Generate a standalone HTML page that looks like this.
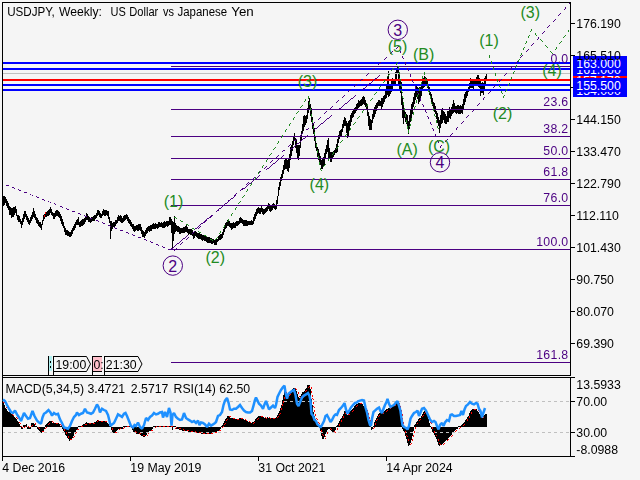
<!DOCTYPE html>
<html><head><meta charset="utf-8"><title>USDJPY Weekly</title>
<style>
html,body{margin:0;padding:0;background:#f5f5f5;}
body{width:640px;height:480px;overflow:hidden;position:relative;font-family:"Liberation Sans",sans-serif;}
svg{position:absolute;left:0;top:0;}
text{font-family:"Liberation Sans",sans-serif;}
.t{font-size:12.3px;fill:#000;}
.f{font-size:12.3px;letter-spacing:0.3px;fill:#4b0082;}
.w{font-size:12.3px;fill:#fff;}
.g{font-size:16px;fill:#228b22;}
.p{font-size:16px;fill:#4b0082;}
</style></head><body>
<svg width="640" height="480" viewBox="0 0 640 480">
<rect x="0" y="0" width="640" height="480" fill="#f5f5f5"/>
<g shape-rendering="crispEdges">
<rect x="3" y="196" width="1" height="10" fill="#000"/>
<rect x="4" y="196" width="1" height="9" fill="#000"/>
<rect x="5" y="197" width="1" height="6" fill="#000"/>
<rect x="6" y="199" width="1" height="7" fill="#000"/>
<rect x="7" y="201" width="1" height="7" fill="#000"/>
<rect x="8" y="203" width="1" height="7" fill="#000"/>
<rect x="9" y="206" width="1" height="9" fill="#000"/>
<rect x="10" y="207" width="1" height="8" fill="#000"/>
<rect x="11" y="208" width="1" height="10" fill="#000"/>
<rect x="12" y="208" width="1" height="9" fill="#000"/>
<rect x="13" y="207" width="1" height="10" fill="#000"/>
<rect x="14" y="207" width="1" height="8" fill="#000"/>
<rect x="15" y="206" width="1" height="7" fill="#000"/>
<rect x="16" y="209" width="1" height="7" fill="#000"/>
<rect x="17" y="215" width="1" height="5" fill="#000"/>
<rect x="18" y="215" width="1" height="7" fill="#000"/>
<rect x="19" y="216" width="1" height="6" fill="#000"/>
<rect x="20" y="219" width="1" height="5" fill="#000"/>
<rect x="21" y="221" width="1" height="7" fill="#000"/>
<rect x="22" y="218" width="1" height="7" fill="#000"/>
<rect x="23" y="214" width="1" height="8" fill="#000"/>
<rect x="24" y="211" width="1" height="8" fill="#000"/>
<rect x="25" y="211" width="1" height="6" fill="#000"/>
<rect x="26" y="214" width="1" height="6" fill="#000"/>
<rect x="27" y="216" width="1" height="6" fill="#000"/>
<rect x="28" y="218" width="1" height="6" fill="#000"/>
<rect x="29" y="220" width="1" height="5" fill="#000"/>
<rect x="30" y="217" width="1" height="6" fill="#000"/>
<rect x="31" y="215" width="1" height="6" fill="#000"/>
<rect x="32" y="212" width="1" height="7" fill="#000"/>
<rect x="33" y="208" width="1" height="9" fill="#000"/>
<rect x="34" y="211" width="1" height="7" fill="#000"/>
<rect x="35" y="214" width="1" height="6" fill="#000"/>
<rect x="36" y="217" width="1" height="6" fill="#000"/>
<rect x="37" y="218" width="1" height="6" fill="#000"/>
<rect x="38" y="220" width="1" height="6" fill="#000"/>
<rect x="39" y="222" width="1" height="5" fill="#000"/>
<rect x="40" y="222" width="1" height="6" fill="#000"/>
<rect x="41" y="224" width="1" height="6" fill="#000"/>
<rect x="42" y="220" width="1" height="5" fill="#000"/>
<rect x="43" y="215" width="1" height="6" fill="#000"/>
<rect x="44" y="214" width="1" height="5" fill="#000"/>
<rect x="45" y="212" width="1" height="5" fill="#000"/>
<rect x="46" y="212" width="1" height="5" fill="#000"/>
<rect x="47" y="211" width="1" height="5" fill="#000"/>
<rect x="48" y="210" width="1" height="6" fill="#000"/>
<rect x="49" y="209" width="1" height="6" fill="#000"/>
<rect x="50" y="207" width="1" height="6" fill="#000"/>
<rect x="51" y="209" width="1" height="6" fill="#000"/>
<rect x="52" y="212" width="1" height="4" fill="#000"/>
<rect x="53" y="213" width="1" height="6" fill="#000"/>
<rect x="54" y="213" width="1" height="6" fill="#000"/>
<rect x="55" y="211" width="1" height="6" fill="#000"/>
<rect x="56" y="210" width="1" height="6" fill="#000"/>
<rect x="57" y="210" width="1" height="6" fill="#000"/>
<rect x="58" y="211" width="1" height="6" fill="#000"/>
<rect x="59" y="212" width="1" height="6" fill="#000"/>
<rect x="60" y="214" width="1" height="7" fill="#000"/>
<rect x="61" y="216" width="1" height="8" fill="#000"/>
<rect x="62" y="219" width="1" height="7" fill="#000"/>
<rect x="63" y="222" width="1" height="6" fill="#000"/>
<rect x="64" y="226" width="1" height="6" fill="#000"/>
<rect x="65" y="228" width="1" height="7" fill="#000"/>
<rect x="66" y="230" width="1" height="5" fill="#000"/>
<rect x="67" y="230" width="1" height="6" fill="#000"/>
<rect x="68" y="231" width="1" height="5" fill="#000"/>
<rect x="69" y="232" width="1" height="5" fill="#000"/>
<rect x="70" y="232" width="1" height="5" fill="#000"/>
<rect x="71" y="230" width="1" height="6" fill="#000"/>
<rect x="72" y="228" width="1" height="6" fill="#000"/>
<rect x="73" y="226" width="1" height="5" fill="#000"/>
<rect x="74" y="224" width="1" height="6" fill="#000"/>
<rect x="75" y="222" width="1" height="6" fill="#000"/>
<rect x="76" y="220" width="1" height="5" fill="#000"/>
<rect x="77" y="219" width="1" height="6" fill="#000"/>
<rect x="78" y="217" width="1" height="8" fill="#000"/>
<rect x="79" y="222" width="1" height="5" fill="#000"/>
<rect x="80" y="221" width="1" height="6" fill="#000"/>
<rect x="81" y="220" width="1" height="6" fill="#000"/>
<rect x="82" y="219" width="1" height="7" fill="#000"/>
<rect x="83" y="219" width="1" height="6" fill="#000"/>
<rect x="84" y="218" width="1" height="6" fill="#000"/>
<rect x="85" y="216" width="1" height="6" fill="#000"/>
<rect x="86" y="213" width="1" height="7" fill="#000"/>
<rect x="87" y="214" width="1" height="6" fill="#000"/>
<rect x="88" y="216" width="1" height="6" fill="#000"/>
<rect x="89" y="217" width="1" height="5" fill="#000"/>
<rect x="90" y="218" width="1" height="5" fill="#000"/>
<rect x="91" y="217" width="1" height="5" fill="#000"/>
<rect x="92" y="217" width="1" height="4" fill="#000"/>
<rect x="93" y="216" width="1" height="5" fill="#000"/>
<rect x="94" y="215" width="1" height="6" fill="#000"/>
<rect x="95" y="215" width="1" height="4" fill="#000"/>
<rect x="96" y="213" width="1" height="5" fill="#000"/>
<rect x="97" y="210" width="1" height="6" fill="#000"/>
<rect x="98" y="210" width="1" height="5" fill="#000"/>
<rect x="99" y="211" width="1" height="6" fill="#000"/>
<rect x="100" y="213" width="1" height="5" fill="#000"/>
<rect x="101" y="214" width="1" height="4" fill="#000"/>
<rect x="102" y="211" width="1" height="5" fill="#000"/>
<rect x="103" y="209" width="1" height="6" fill="#000"/>
<rect x="104" y="210" width="1" height="6" fill="#000"/>
<rect x="105" y="210" width="1" height="6" fill="#000"/>
<rect x="106" y="210" width="1" height="5" fill="#000"/>
<rect x="107" y="211" width="1" height="5" fill="#000"/>
<rect x="108" y="211" width="1" height="8" fill="#000"/>
<rect x="109" y="217" width="1" height="6" fill="#000"/>
<rect x="110" y="221" width="1" height="18" fill="#000"/>
<rect x="111" y="221" width="1" height="10" fill="#000"/>
<rect x="112" y="223" width="1" height="6" fill="#000"/>
<rect x="113" y="222" width="1" height="5" fill="#000"/>
<rect x="114" y="222" width="1" height="5" fill="#000"/>
<rect x="115" y="220" width="1" height="6" fill="#000"/>
<rect x="116" y="220" width="1" height="4" fill="#000"/>
<rect x="117" y="217" width="1" height="6" fill="#000"/>
<rect x="118" y="215" width="1" height="6" fill="#000"/>
<rect x="119" y="216" width="1" height="5" fill="#000"/>
<rect x="120" y="215" width="1" height="7" fill="#000"/>
<rect x="121" y="216" width="1" height="7" fill="#000"/>
<rect x="122" y="218" width="1" height="5" fill="#000"/>
<rect x="123" y="216" width="1" height="6" fill="#000"/>
<rect x="124" y="215" width="1" height="6" fill="#000"/>
<rect x="125" y="215" width="1" height="5" fill="#000"/>
<rect x="126" y="214" width="1" height="5" fill="#000"/>
<rect x="127" y="215" width="1" height="6" fill="#000"/>
<rect x="128" y="217" width="1" height="6" fill="#000"/>
<rect x="129" y="219" width="1" height="5" fill="#000"/>
<rect x="130" y="220" width="1" height="6" fill="#000"/>
<rect x="131" y="222" width="1" height="5" fill="#000"/>
<rect x="132" y="224" width="1" height="5" fill="#000"/>
<rect x="133" y="224" width="1" height="7" fill="#000"/>
<rect x="134" y="226" width="1" height="6" fill="#000"/>
<rect x="135" y="226" width="1" height="5" fill="#000"/>
<rect x="136" y="225" width="1" height="5" fill="#000"/>
<rect x="137" y="225" width="1" height="6" fill="#000"/>
<rect x="138" y="224" width="1" height="7" fill="#000"/>
<rect x="139" y="224" width="1" height="6" fill="#000"/>
<rect x="140" y="224" width="1" height="7" fill="#000"/>
<rect x="141" y="227" width="1" height="7" fill="#000"/>
<rect x="142" y="230" width="1" height="7" fill="#000"/>
<rect x="143" y="231" width="1" height="6" fill="#000"/>
<rect x="144" y="232" width="1" height="6" fill="#000"/>
<rect x="145" y="230" width="1" height="6" fill="#000"/>
<rect x="146" y="228" width="1" height="6" fill="#000"/>
<rect x="147" y="227" width="1" height="6" fill="#000"/>
<rect x="148" y="226" width="1" height="5" fill="#000"/>
<rect x="149" y="226" width="1" height="6" fill="#000"/>
<rect x="150" y="225" width="1" height="6" fill="#000"/>
<rect x="151" y="225" width="1" height="6" fill="#000"/>
<rect x="152" y="224" width="1" height="5" fill="#000"/>
<rect x="153" y="223" width="1" height="6" fill="#000"/>
<rect x="154" y="224" width="1" height="5" fill="#000"/>
<rect x="155" y="223" width="1" height="6" fill="#000"/>
<rect x="156" y="224" width="1" height="4" fill="#000"/>
<rect x="157" y="224" width="1" height="5" fill="#000"/>
<rect x="158" y="222" width="1" height="6" fill="#000"/>
<rect x="159" y="222" width="1" height="5" fill="#000"/>
<rect x="160" y="223" width="1" height="4" fill="#000"/>
<rect x="161" y="222" width="1" height="5" fill="#000"/>
<rect x="162" y="223" width="1" height="5" fill="#000"/>
<rect x="163" y="222" width="1" height="6" fill="#000"/>
<rect x="164" y="221" width="1" height="7" fill="#000"/>
<rect x="165" y="222" width="1" height="5" fill="#000"/>
<rect x="166" y="221" width="1" height="5" fill="#000"/>
<rect x="167" y="221" width="1" height="6" fill="#000"/>
<rect x="168" y="221" width="1" height="5" fill="#000"/>
<rect x="169" y="217" width="1" height="8" fill="#000"/>
<rect x="170" y="217" width="1" height="8" fill="#000"/>
<rect x="171" y="219" width="1" height="14" fill="#000"/>
<rect x="172" y="221" width="1" height="29" fill="#000"/>
<rect x="173" y="222" width="1" height="19" fill="#000"/>
<rect x="174" y="216" width="1" height="18" fill="#000"/>
<rect x="175" y="223" width="1" height="9" fill="#000"/>
<rect x="176" y="225" width="1" height="6" fill="#000"/>
<rect x="177" y="226" width="1" height="6" fill="#000"/>
<rect x="178" y="226" width="1" height="6" fill="#000"/>
<rect x="179" y="227" width="1" height="7" fill="#000"/>
<rect x="180" y="228" width="1" height="6" fill="#000"/>
<rect x="181" y="228" width="1" height="5" fill="#000"/>
<rect x="182" y="228" width="1" height="5" fill="#000"/>
<rect x="183" y="227" width="1" height="6" fill="#000"/>
<rect x="184" y="227" width="1" height="6" fill="#000"/>
<rect x="185" y="226" width="1" height="6" fill="#000"/>
<rect x="186" y="225" width="1" height="7" fill="#000"/>
<rect x="187" y="227" width="1" height="6" fill="#000"/>
<rect x="188" y="229" width="1" height="6" fill="#000"/>
<rect x="189" y="229" width="1" height="5" fill="#000"/>
<rect x="190" y="229" width="1" height="6" fill="#000"/>
<rect x="191" y="229" width="1" height="6" fill="#000"/>
<rect x="192" y="230" width="1" height="6" fill="#000"/>
<rect x="193" y="232" width="1" height="7" fill="#000"/>
<rect x="194" y="231" width="1" height="7" fill="#000"/>
<rect x="195" y="231" width="1" height="5" fill="#000"/>
<rect x="196" y="232" width="1" height="5" fill="#000"/>
<rect x="197" y="233" width="1" height="5" fill="#000"/>
<rect x="198" y="233" width="1" height="6" fill="#000"/>
<rect x="199" y="233" width="1" height="6" fill="#000"/>
<rect x="200" y="234" width="1" height="5" fill="#000"/>
<rect x="201" y="234" width="1" height="6" fill="#000"/>
<rect x="202" y="235" width="1" height="6" fill="#000"/>
<rect x="203" y="235" width="1" height="5" fill="#000"/>
<rect x="204" y="236" width="1" height="5" fill="#000"/>
<rect x="205" y="235" width="1" height="6" fill="#000"/>
<rect x="206" y="236" width="1" height="6" fill="#000"/>
<rect x="207" y="237" width="1" height="6" fill="#000"/>
<rect x="208" y="237" width="1" height="6" fill="#000"/>
<rect x="209" y="237" width="1" height="6" fill="#000"/>
<rect x="210" y="238" width="1" height="5" fill="#000"/>
<rect x="211" y="238" width="1" height="6" fill="#000"/>
<rect x="212" y="239" width="1" height="5" fill="#000"/>
<rect x="213" y="239" width="1" height="4" fill="#000"/>
<rect x="214" y="240" width="1" height="5" fill="#000"/>
<rect x="215" y="239" width="1" height="6" fill="#000"/>
<rect x="216" y="239" width="1" height="6" fill="#000"/>
<rect x="217" y="239" width="1" height="3" fill="#000"/>
<rect x="218" y="236" width="1" height="5" fill="#000"/>
<rect x="219" y="235" width="1" height="5" fill="#000"/>
<rect x="220" y="234" width="1" height="6" fill="#000"/>
<rect x="221" y="234" width="1" height="5" fill="#000"/>
<rect x="222" y="232" width="1" height="6" fill="#000"/>
<rect x="223" y="229" width="1" height="6" fill="#000"/>
<rect x="224" y="225" width="1" height="7" fill="#000"/>
<rect x="225" y="223" width="1" height="6" fill="#000"/>
<rect x="226" y="222" width="1" height="6" fill="#000"/>
<rect x="227" y="220" width="1" height="6" fill="#000"/>
<rect x="228" y="219" width="1" height="7" fill="#000"/>
<rect x="229" y="221" width="1" height="6" fill="#000"/>
<rect x="230" y="223" width="1" height="5" fill="#000"/>
<rect x="231" y="223" width="1" height="7" fill="#000"/>
<rect x="232" y="223" width="1" height="6" fill="#000"/>
<rect x="233" y="222" width="1" height="6" fill="#000"/>
<rect x="234" y="223" width="1" height="5" fill="#000"/>
<rect x="235" y="222" width="1" height="6" fill="#000"/>
<rect x="236" y="221" width="1" height="5" fill="#000"/>
<rect x="237" y="221" width="1" height="5" fill="#000"/>
<rect x="238" y="221" width="1" height="4" fill="#000"/>
<rect x="239" y="218" width="1" height="6" fill="#000"/>
<rect x="240" y="217" width="1" height="6" fill="#000"/>
<rect x="241" y="218" width="1" height="5" fill="#000"/>
<rect x="242" y="219" width="1" height="5" fill="#000"/>
<rect x="243" y="220" width="1" height="6" fill="#000"/>
<rect x="244" y="220" width="1" height="6" fill="#000"/>
<rect x="245" y="220" width="1" height="6" fill="#000"/>
<rect x="246" y="220" width="1" height="6" fill="#000"/>
<rect x="247" y="221" width="1" height="5" fill="#000"/>
<rect x="248" y="221" width="1" height="4" fill="#000"/>
<rect x="249" y="221" width="1" height="4" fill="#000"/>
<rect x="250" y="221" width="1" height="4" fill="#000"/>
<rect x="251" y="220" width="1" height="5" fill="#000"/>
<rect x="252" y="221" width="1" height="4" fill="#000"/>
<rect x="253" y="217" width="1" height="7" fill="#000"/>
<rect x="254" y="214" width="1" height="7" fill="#000"/>
<rect x="255" y="212" width="1" height="7" fill="#000"/>
<rect x="256" y="209" width="1" height="7" fill="#000"/>
<rect x="257" y="208" width="1" height="6" fill="#000"/>
<rect x="258" y="207" width="1" height="6" fill="#000"/>
<rect x="259" y="208" width="1" height="6" fill="#000"/>
<rect x="260" y="208" width="1" height="6" fill="#000"/>
<rect x="261" y="206" width="1" height="6" fill="#000"/>
<rect x="262" y="208" width="1" height="6" fill="#000"/>
<rect x="263" y="209" width="1" height="6" fill="#000"/>
<rect x="264" y="209" width="1" height="5" fill="#000"/>
<rect x="265" y="208" width="1" height="5" fill="#000"/>
<rect x="266" y="207" width="1" height="5" fill="#000"/>
<rect x="267" y="206" width="1" height="5" fill="#000"/>
<rect x="268" y="203" width="1" height="6" fill="#000"/>
<rect x="269" y="204" width="1" height="7" fill="#000"/>
<rect x="270" y="206" width="1" height="6" fill="#000"/>
<rect x="271" y="206" width="1" height="5" fill="#000"/>
<rect x="272" y="204" width="1" height="6" fill="#000"/>
<rect x="273" y="203" width="1" height="5" fill="#000"/>
<rect x="274" y="204" width="1" height="5" fill="#000"/>
<rect x="275" y="205" width="1" height="5" fill="#000"/>
<rect x="276" y="200" width="1" height="9" fill="#000"/>
<rect x="277" y="196" width="1" height="8" fill="#000"/>
<rect x="278" y="187" width="1" height="9" fill="#000"/>
<rect x="279" y="182" width="1" height="8" fill="#000"/>
<rect x="280" y="177" width="1" height="9" fill="#000"/>
<rect x="281" y="174" width="1" height="7" fill="#000"/>
<rect x="282" y="170" width="1" height="8" fill="#000"/>
<rect x="283" y="165" width="1" height="9" fill="#000"/>
<rect x="284" y="160" width="1" height="10" fill="#000"/>
<rect x="285" y="159" width="1" height="10" fill="#000"/>
<rect x="286" y="158" width="1" height="11" fill="#000"/>
<rect x="287" y="160" width="1" height="11" fill="#000"/>
<rect x="288" y="158" width="1" height="14" fill="#000"/>
<rect x="289" y="154" width="1" height="14" fill="#000"/>
<rect x="290" y="147" width="1" height="13" fill="#000"/>
<rect x="291" y="145" width="1" height="11" fill="#000"/>
<rect x="292" y="141" width="1" height="10" fill="#000"/>
<rect x="293" y="136" width="1" height="9" fill="#000"/>
<rect x="294" y="133" width="1" height="8" fill="#000"/>
<rect x="295" y="138" width="1" height="10" fill="#000"/>
<rect x="296" y="140" width="1" height="13" fill="#000"/>
<rect x="297" y="145" width="1" height="13" fill="#000"/>
<rect x="298" y="145" width="1" height="15" fill="#000"/>
<rect x="299" y="145" width="1" height="11" fill="#000"/>
<rect x="300" y="136" width="1" height="12" fill="#000"/>
<rect x="301" y="131" width="1" height="10" fill="#000"/>
<rect x="302" y="124" width="1" height="10" fill="#000"/>
<rect x="303" y="116" width="1" height="15" fill="#000"/>
<rect x="304" y="115" width="1" height="12" fill="#000"/>
<rect x="305" y="116" width="1" height="9" fill="#000"/>
<rect x="306" y="115" width="1" height="8" fill="#000"/>
<rect x="307" y="108" width="1" height="11" fill="#000"/>
<rect x="308" y="101" width="1" height="12" fill="#000"/>
<rect x="309" y="98" width="1" height="12" fill="#000"/>
<rect x="310" y="104" width="1" height="12" fill="#000"/>
<rect x="311" y="108" width="1" height="14" fill="#000"/>
<rect x="312" y="117" width="1" height="12" fill="#000"/>
<rect x="313" y="123" width="1" height="11" fill="#000"/>
<rect x="314" y="128" width="1" height="13" fill="#000"/>
<rect x="315" y="136" width="1" height="12" fill="#000"/>
<rect x="316" y="143" width="1" height="8" fill="#000"/>
<rect x="317" y="147" width="1" height="10" fill="#000"/>
<rect x="318" y="149" width="1" height="11" fill="#000"/>
<rect x="319" y="153" width="1" height="10" fill="#000"/>
<rect x="320" y="156" width="1" height="9" fill="#000"/>
<rect x="321" y="160" width="1" height="9" fill="#000"/>
<rect x="322" y="158" width="1" height="11" fill="#000"/>
<rect x="323" y="157" width="1" height="10" fill="#000"/>
<rect x="324" y="153" width="1" height="12" fill="#000"/>
<rect x="325" y="149" width="1" height="9" fill="#000"/>
<rect x="326" y="145" width="1" height="9" fill="#000"/>
<rect x="327" y="140" width="1" height="12" fill="#000"/>
<rect x="328" y="138" width="1" height="20" fill="#000"/>
<rect x="329" y="148" width="1" height="10" fill="#000"/>
<rect x="330" y="152" width="1" height="10" fill="#000"/>
<rect x="331" y="152" width="1" height="10" fill="#000"/>
<rect x="332" y="152" width="1" height="7" fill="#000"/>
<rect x="333" y="151" width="1" height="6" fill="#000"/>
<rect x="334" y="150" width="1" height="5" fill="#000"/>
<rect x="335" y="148" width="1" height="5" fill="#000"/>
<rect x="336" y="144" width="1" height="9" fill="#000"/>
<rect x="337" y="139" width="1" height="13" fill="#000"/>
<rect x="338" y="135" width="1" height="8" fill="#000"/>
<rect x="339" y="131" width="1" height="8" fill="#000"/>
<rect x="340" y="130" width="1" height="7" fill="#000"/>
<rect x="341" y="129" width="1" height="7" fill="#000"/>
<rect x="342" y="124" width="1" height="8" fill="#000"/>
<rect x="343" y="120" width="1" height="8" fill="#000"/>
<rect x="344" y="117" width="1" height="9" fill="#000"/>
<rect x="345" y="118" width="1" height="8" fill="#000"/>
<rect x="346" y="121" width="1" height="12" fill="#000"/>
<rect x="347" y="123" width="1" height="15" fill="#000"/>
<rect x="348" y="121" width="1" height="15" fill="#000"/>
<rect x="349" y="120" width="1" height="11" fill="#000"/>
<rect x="350" y="115" width="1" height="11" fill="#000"/>
<rect x="351" y="113" width="1" height="9" fill="#000"/>
<rect x="352" y="111" width="1" height="7" fill="#000"/>
<rect x="353" y="109" width="1" height="8" fill="#000"/>
<rect x="354" y="108" width="1" height="6" fill="#000"/>
<rect x="355" y="107" width="1" height="6" fill="#000"/>
<rect x="356" y="104" width="1" height="7" fill="#000"/>
<rect x="357" y="103" width="1" height="7" fill="#000"/>
<rect x="358" y="100" width="1" height="8" fill="#000"/>
<rect x="359" y="101" width="1" height="6" fill="#000"/>
<rect x="360" y="100" width="1" height="6" fill="#000"/>
<rect x="361" y="99" width="1" height="7" fill="#000"/>
<rect x="362" y="97" width="1" height="8" fill="#000"/>
<rect x="363" y="96" width="1" height="8" fill="#000"/>
<rect x="364" y="97" width="1" height="8" fill="#000"/>
<rect x="365" y="100" width="1" height="7" fill="#000"/>
<rect x="366" y="103" width="1" height="6" fill="#000"/>
<rect x="367" y="106" width="1" height="10" fill="#000"/>
<rect x="368" y="112" width="1" height="14" fill="#000"/>
<rect x="369" y="116" width="1" height="14" fill="#000"/>
<rect x="370" y="119" width="1" height="11" fill="#000"/>
<rect x="371" y="120" width="1" height="10" fill="#000"/>
<rect x="372" y="114" width="1" height="9" fill="#000"/>
<rect x="373" y="110" width="1" height="9" fill="#000"/>
<rect x="374" y="107" width="1" height="10" fill="#000"/>
<rect x="375" y="105" width="1" height="9" fill="#000"/>
<rect x="376" y="103" width="1" height="8" fill="#000"/>
<rect x="377" y="102" width="1" height="6" fill="#000"/>
<rect x="378" y="100" width="1" height="6" fill="#000"/>
<rect x="379" y="100" width="1" height="6" fill="#000"/>
<rect x="380" y="101" width="1" height="5" fill="#000"/>
<rect x="381" y="98" width="1" height="12" fill="#000"/>
<rect x="382" y="98" width="1" height="9" fill="#000"/>
<rect x="383" y="96" width="1" height="8" fill="#000"/>
<rect x="384" y="95" width="1" height="7" fill="#000"/>
<rect x="385" y="89" width="1" height="10" fill="#000"/>
<rect x="386" y="86" width="1" height="12" fill="#000"/>
<rect x="387" y="76" width="1" height="19" fill="#000"/>
<rect x="388" y="71" width="1" height="26" fill="#000"/>
<rect x="389" y="85" width="1" height="11" fill="#000"/>
<rect x="390" y="86" width="1" height="8" fill="#000"/>
<rect x="391" y="79" width="1" height="13" fill="#000"/>
<rect x="392" y="78" width="1" height="13" fill="#000"/>
<rect x="393" y="80" width="1" height="6" fill="#000"/>
<rect x="394" y="79" width="1" height="6" fill="#000"/>
<rect x="395" y="72" width="1" height="13" fill="#000"/>
<rect x="396" y="70" width="1" height="10" fill="#000"/>
<rect x="397" y="66" width="1" height="8" fill="#000"/>
<rect x="398" y="66" width="1" height="19" fill="#000"/>
<rect x="399" y="72" width="1" height="18" fill="#000"/>
<rect x="400" y="80" width="1" height="13" fill="#000"/>
<rect x="401" y="82" width="1" height="23" fill="#000"/>
<rect x="402" y="98" width="1" height="20" fill="#000"/>
<rect x="403" y="105" width="1" height="19" fill="#000"/>
<rect x="404" y="109" width="1" height="9" fill="#000"/>
<rect x="405" y="112" width="1" height="10" fill="#000"/>
<rect x="406" y="114" width="1" height="10" fill="#000"/>
<rect x="407" y="115" width="1" height="14" fill="#000"/>
<rect x="408" y="121" width="1" height="13" fill="#000"/>
<rect x="409" y="115" width="1" height="14" fill="#000"/>
<rect x="410" y="110" width="1" height="12" fill="#000"/>
<rect x="411" y="104" width="1" height="15" fill="#000"/>
<rect x="412" y="102" width="1" height="12" fill="#000"/>
<rect x="413" y="97" width="1" height="10" fill="#000"/>
<rect x="414" y="93" width="1" height="11" fill="#000"/>
<rect x="415" y="91" width="1" height="9" fill="#000"/>
<rect x="416" y="85" width="1" height="12" fill="#000"/>
<rect x="417" y="87" width="1" height="12" fill="#000"/>
<rect x="418" y="88" width="1" height="16" fill="#000"/>
<rect x="419" y="87" width="1" height="15" fill="#000"/>
<rect x="420" y="87" width="1" height="12" fill="#000"/>
<rect x="421" y="82" width="1" height="14" fill="#000"/>
<rect x="422" y="80" width="1" height="10" fill="#000"/>
<rect x="423" y="78" width="1" height="10" fill="#000"/>
<rect x="424" y="76" width="1" height="11" fill="#000"/>
<rect x="425" y="77" width="1" height="9" fill="#000"/>
<rect x="426" y="78" width="1" height="8" fill="#000"/>
<rect x="427" y="81" width="1" height="7" fill="#000"/>
<rect x="428" y="85" width="1" height="6" fill="#000"/>
<rect x="429" y="87" width="1" height="8" fill="#000"/>
<rect x="430" y="92" width="1" height="7" fill="#000"/>
<rect x="431" y="94" width="1" height="8" fill="#000"/>
<rect x="432" y="98" width="1" height="8" fill="#000"/>
<rect x="433" y="102" width="1" height="8" fill="#000"/>
<rect x="434" y="103" width="1" height="9" fill="#000"/>
<rect x="435" y="106" width="1" height="8" fill="#000"/>
<rect x="436" y="111" width="1" height="8" fill="#000"/>
<rect x="437" y="113" width="1" height="10" fill="#000"/>
<rect x="438" y="117" width="1" height="9" fill="#000"/>
<rect x="439" y="120" width="1" height="13" fill="#000"/>
<rect x="440" y="115" width="1" height="13" fill="#000"/>
<rect x="441" y="110" width="1" height="14" fill="#000"/>
<rect x="442" y="108" width="1" height="15" fill="#000"/>
<rect x="443" y="111" width="1" height="9" fill="#000"/>
<rect x="444" y="112" width="1" height="11" fill="#000"/>
<rect x="445" y="114" width="1" height="10" fill="#000"/>
<rect x="446" y="116" width="1" height="8" fill="#000"/>
<rect x="447" y="111" width="1" height="11" fill="#000"/>
<rect x="448" y="111" width="1" height="11" fill="#000"/>
<rect x="449" y="107" width="1" height="11" fill="#000"/>
<rect x="450" y="109" width="1" height="10" fill="#000"/>
<rect x="451" y="107" width="1" height="9" fill="#000"/>
<rect x="452" y="104" width="1" height="10" fill="#000"/>
<rect x="453" y="100" width="1" height="13" fill="#000"/>
<rect x="454" y="103" width="1" height="9" fill="#000"/>
<rect x="455" y="106" width="1" height="7" fill="#000"/>
<rect x="456" y="106" width="1" height="8" fill="#000"/>
<rect x="457" y="105" width="1" height="8" fill="#000"/>
<rect x="458" y="105" width="1" height="9" fill="#000"/>
<rect x="459" y="106" width="1" height="8" fill="#000"/>
<rect x="460" y="105" width="1" height="9" fill="#000"/>
<rect x="461" y="106" width="1" height="7" fill="#000"/>
<rect x="462" y="104" width="1" height="10" fill="#000"/>
<rect x="463" y="99" width="1" height="11" fill="#000"/>
<rect x="464" y="94" width="1" height="11" fill="#000"/>
<rect x="465" y="92" width="1" height="10" fill="#000"/>
<rect x="466" y="91" width="1" height="7" fill="#000"/>
<rect x="467" y="89" width="1" height="7" fill="#000"/>
<rect x="468" y="87" width="1" height="5" fill="#000"/>
<rect x="469" y="83" width="1" height="8" fill="#000"/>
<rect x="470" y="78" width="1" height="10" fill="#000"/>
<rect x="471" y="80" width="1" height="8" fill="#000"/>
<rect x="472" y="80" width="1" height="8" fill="#000"/>
<rect x="473" y="81" width="1" height="8" fill="#000"/>
<rect x="474" y="79" width="1" height="7" fill="#000"/>
<rect x="475" y="79" width="1" height="6" fill="#000"/>
<rect x="476" y="77" width="1" height="7" fill="#000"/>
<rect x="477" y="75" width="1" height="9" fill="#000"/>
<rect x="478" y="75" width="1" height="12" fill="#000"/>
<rect x="479" y="78" width="1" height="10" fill="#000"/>
<rect x="480" y="79" width="1" height="17" fill="#000"/>
<rect x="481" y="83" width="1" height="10" fill="#000"/>
<rect x="482" y="82" width="1" height="11" fill="#000"/>
<rect x="483" y="83" width="1" height="12" fill="#000"/>
<rect x="484" y="78" width="1" height="13" fill="#000"/>
<rect x="485" y="76" width="1" height="8" fill="#000"/>
<rect x="486" y="73" width="1" height="8" fill="#000"/>
<rect x="45" y="212" width="1" height="2" fill="#ff0000"/><rect x="44" y="215" width="1" height="2" fill="#ff0000"/>
</g>
<g shape-rendering="crispEdges">
<rect x="171" y="66" width="399" height="1" fill="#4b0082"/>
<rect x="171" y="109" width="399" height="1" fill="#4b0082"/>
<rect x="171" y="136" width="399" height="1" fill="#4b0082"/>
<rect x="171" y="158" width="399" height="1" fill="#4b0082"/>
<rect x="171" y="179" width="399" height="1" fill="#4b0082"/>
<rect x="171" y="205" width="399" height="1" fill="#4b0082"/>
<rect x="171" y="249" width="399" height="1" fill="#4b0082"/>
<rect x="171" y="362" width="399" height="1" fill="#4b0082"/>
<rect x="3" y="73" width="567" height="1" fill="#c0c0c0"/>
<rect x="3" y="62" width="567" height="2" fill="#0000ff"/>
<rect x="3" y="68" width="567" height="2" fill="#0000ff"/>
<rect x="3" y="79" width="567" height="2" fill="#ff0000"/>
<rect x="3" y="84" width="567" height="2" fill="#0000ff"/>
<rect x="3" y="89" width="567" height="2" fill="#0000ff"/>
</g>
<path d="M569 3h1v1h-1zM565 7h1v1h-1zM565 8h1v1h-1zM564 9h1v1h-1zM560 13h1v1h-1zM559 14h1v1h-1zM558 15h1v1h-1zM555 19h1v1h-1zM554 20h1v1h-1zM553 21h1v1h-1zM549 25h1v1h-1zM548 26h1v1h-1zM547 27h1v1h-1zM544 31h1v1h-1zM543 32h1v1h-1zM542 33h1v1h-1zM538 37h1v1h-1zM538 38h1v1h-1zM537 39h1v1h-1zM533 43h1v1h-1zM532 44h1v1h-1zM531 45h1v1h-1zM398 46h1v1h-1zM397 47h1v1h-1zM396 48h1v1h-1zM528 49h1v1h-1zM399 50h1v1h-1zM527 50h1v1h-1zM392 51h1v1h-1zM400 51h1v1h-1zM526 51h1v1h-1zM391 52h1v1h-1zM400 52h1v1h-1zM390 53h1v1h-1zM522 55h1v1h-1zM402 56h1v1h-1zM521 56h1v1h-1zM386 57h1v1h-1zM402 57h1v1h-1zM520 57h1v1h-1zM385 58h1v1h-1zM403 58h1v1h-1zM384 59h1v1h-1zM517 61h1v1h-1zM380 62h1v1h-1zM405 62h1v1h-1zM516 62h1v1h-1zM379 63h1v1h-1zM405 63h1v1h-1zM515 63h1v1h-1zM378 64h1v1h-1zM405 64h1v1h-1zM511 67h1v1h-1zM374 68h1v1h-1zM407 68h1v1h-1zM511 68h1v1h-1zM372 69h2v1h-2zM407 69h1v1h-1zM510 69h1v1h-1zM408 70h1v1h-1zM368 73h1v1h-1zM506 73h1v1h-1zM367 74h1v1h-1zM410 74h1v1h-1zM505 74h1v1h-1zM366 75h1v1h-1zM410 75h1v1h-1zM504 75h1v1h-1zM410 76h1v1h-1zM361 79h2v1h-2zM501 79h1v1h-1zM360 80h1v1h-1zM412 80h1v1h-1zM500 80h1v1h-1zM412 81h1v1h-1zM499 81h1v1h-1zM413 82h1v1h-1zM356 84h1v1h-1zM355 85h1v1h-1zM495 85h1v1h-1zM354 86h1v1h-1zM415 86h1v1h-1zM494 86h1v1h-1zM415 87h1v1h-1zM493 87h1v1h-1zM415 88h1v1h-1zM350 89h1v1h-1zM349 90h1v1h-1zM348 91h1v1h-1zM490 91h1v1h-1zM417 92h1v1h-1zM489 92h1v1h-1zM418 93h1v1h-1zM488 93h1v1h-1zM418 94h1v1h-1zM344 95h1v1h-1zM343 96h1v1h-1zM342 97h1v1h-1zM484 97h1v1h-1zM420 98h1v1h-1zM483 98h1v1h-1zM420 99h1v1h-1zM483 99h1v1h-1zM338 100h1v1h-1zM420 100h1v1h-1zM337 101h1v1h-1zM336 102h1v1h-1zM479 103h1v1h-1zM422 104h1v1h-1zM478 104h1v1h-1zM423 105h1v1h-1zM477 105h1v1h-1zM332 106h1v1h-1zM423 106h1v1h-1zM331 107h1v1h-1zM330 108h1v1h-1zM474 109h1v1h-1zM425 110h1v1h-1zM473 110h1v1h-1zM326 111h1v1h-1zM425 111h1v1h-1zM472 111h1v1h-1zM325 112h1v1h-1zM426 112h1v1h-1zM324 113h1v1h-1zM468 115h1v1h-1zM427 116h1v1h-1zM467 116h1v1h-1zM320 117h1v1h-1zM428 117h1v1h-1zM466 117h1v1h-1zM319 118h1v1h-1zM428 118h1v1h-1zM318 119h1v1h-1zM463 121h1v1h-1zM314 122h1v1h-1zM430 122h1v1h-1zM462 122h1v1h-1zM313 123h1v1h-1zM430 123h1v1h-1zM461 123h1v1h-1zM312 124h1v1h-1zM431 124h1v1h-1zM457 127h1v1h-1zM308 128h1v1h-1zM432 128h1v1h-1zM456 128h1v1h-1zM306 129h2v1h-2zM433 129h1v1h-1zM456 129h1v1h-1zM433 130h1v1h-1zM302 133h1v1h-1zM452 133h1v1h-1zM301 134h1v1h-1zM435 134h1v1h-1zM451 134h1v1h-1zM300 135h1v1h-1zM435 135h1v1h-1zM450 135h1v1h-1zM436 136h1v1h-1zM296 139h1v1h-1zM447 139h1v1h-1zM294 140h2v1h-2zM437 140h1v1h-1zM446 140h1v1h-1zM438 141h1v1h-1zM445 141h1v1h-1zM438 142h1v1h-1zM290 144h1v1h-1zM289 145h1v1h-1zM441 145h1v1h-1zM288 146h1v1h-1zM440 146h1v1h-1zM440 147h1v1h-1zM283 150h2v1h-2zM282 151h1v1h-1zM278 155h1v1h-1zM277 156h1v1h-1zM276 157h1v1h-1zM272 160h1v1h-1zM271 161h1v1h-1zM270 162h1v1h-1zM266 166h1v1h-1zM265 167h1v1h-1zM264 168h1v1h-1zM260 171h1v1h-1zM259 172h1v1h-1zM258 173h1v1h-1zM254 177h1v1h-1zM253 178h1v1h-1zM252 179h1v1h-1zM248 182h1v1h-1zM247 183h1v1h-1zM246 184h1v1h-1zM6 185h3v1h-3zM12 187h2v1h-2zM14 188h1v1h-1zM242 188h1v1h-1zM18 189h1v1h-1zM241 189h1v1h-1zM19 190h2v1h-2zM240 190h1v1h-1zM24 192h3v1h-3zM236 193h1v1h-1zM30 194h1v1h-1zM235 194h1v1h-1zM32 195h1v1h-1zM234 195h1v1h-1zM36 196h1v1h-1zM37 197h2v1h-2zM42 199h2v1h-2zM230 199h1v1h-1zM44 200h1v1h-1zM228 200h2v1h-2zM48 201h1v1h-1zM50 202h1v1h-1zM54 203h1v1h-1zM55 204h1v1h-1zM224 204h1v1h-1zM223 205h1v1h-1zM60 206h2v1h-2zM222 206h1v1h-1zM62 207h1v1h-1zM66 208h1v1h-1zM67 209h2v1h-2zM217 210h2v1h-2zM72 211h3v1h-3zM216 211h1v1h-1zM78 213h2v1h-2zM80 214h1v1h-1zM84 215h1v1h-1zM212 215h1v1h-1zM85 216h2v1h-2zM211 216h1v1h-1zM210 217h1v1h-1zM90 218h2v1h-2zM96 220h2v1h-2zM206 220h1v1h-1zM98 221h1v1h-1zM205 221h1v1h-1zM102 222h1v1h-1zM204 222h1v1h-1zM103 223h2v1h-2zM108 225h2v1h-2zM110 226h1v1h-1zM200 226h1v1h-1zM114 227h1v1h-1zM199 227h1v1h-1zM115 228h2v1h-2zM198 228h1v1h-1zM120 230h3v1h-3zM194 231h1v1h-1zM126 232h2v1h-2zM193 232h1v1h-1zM128 233h1v1h-1zM192 233h1v1h-1zM132 234h1v1h-1zM133 235h2v1h-2zM138 237h3v1h-3zM188 237h1v1h-1zM187 238h1v1h-1zM144 239h2v1h-2zM186 239h1v1h-1zM146 240h1v1h-1zM150 241h1v1h-1zM151 242h2v1h-2zM182 242h1v1h-1zM181 243h1v1h-1zM156 244h2v1h-2zM180 244h1v1h-1zM158 245h1v1h-1zM162 246h1v1h-1zM163 247h2v1h-2zM176 248h1v1h-1zM168 249h3v1h-3zM175 249h1v1h-1zM174 250h1v1h-1z" fill="#4b0082" shape-rendering="crispEdges"/>
<path d="M379 75h1v1h-1zM378 76h1v1h-1zM377 77h1v1h-1zM375 78h2v1h-2zM374 79h1v1h-1zM373 80h1v1h-1zM372 81h1v1h-1zM371 82h1v1h-1zM369 83h2v1h-2zM368 84h1v1h-1zM367 85h1v1h-1zM366 86h1v1h-1zM365 87h1v1h-1zM363 88h2v1h-2zM362 89h1v1h-1zM355 95h1v1h-1zM354 96h1v1h-1zM353 97h1v1h-1zM351 98h2v1h-2zM350 99h1v1h-1zM349 100h1v1h-1zM348 101h1v1h-1zM347 102h1v1h-1zM345 103h2v1h-2zM344 104h1v1h-1zM343 105h1v1h-1zM342 106h1v1h-1zM341 107h1v1h-1zM339 108h2v1h-2zM338 109h1v1h-1zM331 115h1v1h-1zM330 116h1v1h-1zM329 117h1v1h-1zM327 118h2v1h-2zM326 119h1v1h-1zM325 120h1v1h-1zM324 121h1v1h-1zM323 122h1v1h-1zM321 123h2v1h-2zM320 124h1v1h-1zM319 125h1v1h-1zM318 126h1v1h-1zM317 127h1v1h-1zM315 128h2v1h-2zM314 129h1v1h-1zM307 135h1v1h-1zM306 136h1v1h-1zM305 137h1v1h-1zM303 138h2v1h-2zM302 139h1v1h-1zM301 140h1v1h-1zM300 141h1v1h-1zM299 142h1v1h-1zM297 143h2v1h-2zM296 144h1v1h-1zM295 145h1v1h-1zM294 146h1v1h-1zM293 147h1v1h-1zM291 148h2v1h-2zM290 149h1v1h-1zM283 155h1v1h-1zM282 156h1v1h-1zM281 157h1v1h-1zM279 158h2v1h-2zM278 159h1v1h-1zM277 160h1v1h-1zM276 161h1v1h-1zM275 162h1v1h-1zM273 163h2v1h-2zM272 164h1v1h-1zM271 165h1v1h-1zM270 166h1v1h-1zM269 167h1v1h-1zM267 168h2v1h-2zM266 169h1v1h-1zM259 175h1v1h-1zM258 176h1v1h-1zM257 177h1v1h-1zM255 178h2v1h-2zM254 179h1v1h-1zM253 180h1v1h-1zM252 181h1v1h-1zM251 182h1v1h-1zM249 183h2v1h-2zM248 184h1v1h-1zM247 185h1v1h-1zM246 186h1v1h-1zM245 187h1v1h-1zM243 188h2v1h-2zM242 189h1v1h-1zM235 195h1v1h-1zM234 196h1v1h-1zM233 197h1v1h-1zM231 198h2v1h-2zM230 199h1v1h-1zM229 200h1v1h-1zM228 201h1v1h-1zM227 202h1v1h-1zM225 203h2v1h-2zM224 204h1v1h-1zM223 205h1v1h-1zM222 206h1v1h-1zM221 207h1v1h-1zM219 208h2v1h-2zM218 209h1v1h-1zM211 215h1v1h-1zM210 216h1v1h-1zM209 217h1v1h-1zM207 218h2v1h-2zM206 219h1v1h-1zM205 220h1v1h-1zM204 221h1v1h-1zM203 222h1v1h-1zM201 223h2v1h-2zM200 224h1v1h-1zM199 225h1v1h-1zM198 226h1v1h-1zM197 227h1v1h-1zM195 228h2v1h-2zM194 229h1v1h-1zM187 235h1v1h-1zM186 236h1v1h-1zM185 237h1v1h-1zM183 238h2v1h-2zM182 239h1v1h-1zM181 240h1v1h-1zM180 241h1v1h-1zM179 242h1v1h-1zM177 243h2v1h-2zM176 244h1v1h-1zM175 245h1v1h-1zM174 246h1v1h-1zM173 247h1v1h-1zM171 248h2v1h-2zM170 249h1v1h-1z" fill="#4b0082" shape-rendering="crispEdges"/>
<path d="M397 62h1v1h-1zM396 63h1v1h-1zM396 64h1v1h-1zM398 66h1v1h-1zM398 67h1v1h-1zM393 68h1v1h-1zM398 68h1v1h-1zM392 69h1v1h-1zM391 70h1v1h-1zM399 72h1v1h-1zM424 72h1v1h-1zM399 73h1v1h-1zM424 73h1v1h-1zM389 74h1v1h-1zM399 74h1v1h-1zM424 74h1v1h-1zM388 75h1v1h-1zM387 76h1v1h-1zM422 76h1v1h-1zM422 77h1v1h-1zM399 78h1v1h-1zM422 78h1v1h-1zM425 78h1v1h-1zM400 79h1v1h-1zM425 79h1v1h-1zM384 80h1v1h-1zM400 80h1v1h-1zM426 80h1v1h-1zM384 81h1v1h-1zM383 82h1v1h-1zM421 82h1v1h-1zM421 83h1v1h-1zM400 84h1v1h-1zM420 84h1v1h-1zM427 84h1v1h-1zM401 85h1v1h-1zM427 85h1v1h-1zM380 86h1v1h-1zM401 86h1v1h-1zM427 86h1v1h-1zM379 87h1v1h-1zM379 88h1v1h-1zM419 88h1v1h-1zM419 89h1v1h-1zM401 90h1v1h-1zM419 90h1v1h-1zM428 90h1v1h-1zM401 91h1v1h-1zM428 91h1v1h-1zM376 92h1v1h-1zM402 92h1v1h-1zM429 92h1v1h-1zM375 93h1v1h-1zM374 94h1v1h-1zM418 94h1v1h-1zM417 95h1v1h-1zM308 96h1v1h-1zM402 96h1v1h-1zM417 96h1v1h-1zM430 96h1v1h-1zM308 97h1v1h-1zM402 97h1v1h-1zM430 97h1v1h-1zM308 98h1v1h-1zM372 98h1v1h-1zM403 98h1v1h-1zM430 98h1v1h-1zM305 99h1v1h-1zM371 99h1v1h-1zM305 100h1v1h-1zM370 100h1v1h-1zM416 100h1v1h-1zM304 101h1v1h-1zM416 101h1v1h-1zM309 102h1v1h-1zM403 102h1v1h-1zM416 102h1v1h-1zM431 102h1v1h-1zM309 103h1v1h-1zM403 103h1v1h-1zM431 103h1v1h-1zM309 104h1v1h-1zM367 104h1v1h-1zM403 104h1v1h-1zM432 104h1v1h-1zM302 105h1v1h-1zM367 105h1v1h-1zM301 106h1v1h-1zM366 106h1v1h-1zM415 106h1v1h-1zM300 107h1v1h-1zM414 107h1v1h-1zM310 108h1v1h-1zM404 108h1v1h-1zM414 108h1v1h-1zM433 108h1v1h-1zM310 109h1v1h-1zM404 109h1v1h-1zM433 109h1v1h-1zM310 110h1v1h-1zM363 110h1v1h-1zM404 110h1v1h-1zM433 110h1v1h-1zM298 111h1v1h-1zM362 111h1v1h-1zM297 112h1v1h-1zM362 112h1v1h-1zM413 112h1v1h-1zM296 113h1v1h-1zM413 113h1v1h-1zM311 114h1v1h-1zM405 114h1v1h-1zM413 114h1v1h-1zM434 114h1v1h-1zM311 115h1v1h-1zM405 115h1v1h-1zM434 115h1v1h-1zM311 116h1v1h-1zM359 116h1v1h-1zM405 116h1v1h-1zM435 116h1v1h-1zM294 117h1v1h-1zM358 117h1v1h-1zM293 118h1v1h-1zM357 118h1v1h-1zM411 118h1v1h-1zM293 119h1v1h-1zM411 119h1v1h-1zM312 120h1v1h-1zM406 120h1v1h-1zM411 120h1v1h-1zM436 120h1v1h-1zM312 121h1v1h-1zM406 121h1v1h-1zM436 121h1v1h-1zM312 122h1v1h-1zM355 122h1v1h-1zM406 122h1v1h-1zM436 122h1v1h-1zM290 123h1v1h-1zM354 123h1v1h-1zM289 124h1v1h-1zM353 124h1v1h-1zM410 124h1v1h-1zM289 125h1v1h-1zM410 125h1v1h-1zM313 126h1v1h-1zM407 126h1v1h-1zM409 126h1v1h-1zM437 126h1v1h-1zM313 127h1v1h-1zM407 127h1v1h-1zM437 127h1v1h-1zM313 128h1v1h-1zM350 128h1v1h-1zM407 128h1v1h-1zM438 128h1v1h-1zM286 129h1v1h-1zM350 129h1v1h-1zM285 130h1v1h-1zM349 130h1v1h-1zM408 130h1v1h-1zM285 131h1v1h-1zM408 131h1v1h-1zM314 132h1v1h-1zM408 132h1v1h-1zM314 133h1v1h-1zM314 134h1v1h-1zM346 134h1v1h-1zM282 135h1v1h-1zM345 135h1v1h-1zM282 136h1v1h-1zM345 136h1v1h-1zM281 137h1v1h-1zM315 138h1v1h-1zM315 139h1v1h-1zM315 140h1v1h-1zM342 140h1v1h-1zM278 141h1v1h-1zM341 141h1v1h-1zM278 142h1v1h-1zM340 142h1v1h-1zM277 143h1v1h-1zM316 144h1v1h-1zM316 145h1v1h-1zM316 146h1v1h-1zM338 146h1v1h-1zM275 147h1v1h-1zM337 147h1v1h-1zM274 148h1v1h-1zM336 148h1v1h-1zM273 149h1v1h-1zM317 150h1v1h-1zM317 151h1v1h-1zM317 152h1v1h-1zM333 152h1v1h-1zM271 153h1v1h-1zM333 153h1v1h-1zM270 154h1v1h-1zM332 154h1v1h-1zM269 155h1v1h-1zM318 156h1v1h-1zM318 157h1v1h-1zM318 158h1v1h-1zM329 158h1v1h-1zM267 159h1v1h-1zM328 159h1v1h-1zM266 160h1v1h-1zM328 160h1v1h-1zM266 161h1v1h-1zM319 162h1v1h-1zM319 163h1v1h-1zM319 164h1v1h-1zM325 164h1v1h-1zM263 165h1v1h-1zM324 165h1v1h-1zM262 166h1v1h-1zM323 166h1v1h-1zM262 167h1v1h-1zM320 168h1v1h-1zM320 169h1v1h-1zM321 170h1v1h-1zM259 171h1v1h-1zM258 172h1v1h-1zM258 173h1v1h-1zM255 177h1v1h-1zM255 178h1v1h-1zM254 179h1v1h-1zM251 183h1v1h-1zM251 184h1v1h-1zM250 185h1v1h-1zM247 189h1v1h-1zM247 190h1v1h-1zM246 191h1v1h-1zM244 195h1v1h-1zM243 196h1v1h-1zM242 197h1v1h-1zM240 201h1v1h-1zM239 202h1v1h-1zM238 203h1v1h-1zM236 207h1v1h-1zM235 208h1v1h-1zM235 209h1v1h-1zM232 213h1v1h-1zM231 214h1v1h-1zM231 215h1v1h-1zM174 217h2v1h-2zM176 218h1v1h-1zM228 219h1v1h-1zM180 220h1v1h-1zM228 220h1v1h-1zM181 221h2v1h-2zM227 221h1v1h-1zM186 224h2v1h-2zM188 225h1v1h-1zM224 225h1v1h-1zM224 226h1v1h-1zM223 227h1v1h-1zM192 228h2v1h-2zM194 229h1v1h-1zM198 231h1v1h-1zM220 231h1v1h-1zM199 232h2v1h-2zM220 232h1v1h-1zM219 233h1v1h-1zM204 235h2v1h-2zM206 236h1v1h-1zM217 237h1v1h-1zM216 238h1v1h-1zM210 239h2v1h-2zM215 239h1v1h-1zM212 240h1v1h-1z" fill="#228b22" shape-rendering="crispEdges"/>
<path d="M531 29h1v1h-1zM531 30h1v1h-1zM568 30h1v1h-1zM530 31h1v1h-1zM568 31h1v1h-1zM535 33h1v1h-1zM535 34h1v1h-1zM529 35h1v1h-1zM536 35h1v1h-1zM565 35h1v1h-1zM528 36h1v1h-1zM564 36h1v1h-1zM528 37h1v1h-1zM563 37h1v1h-1zM540 39h1v1h-1zM541 40h1v1h-1zM526 41h1v1h-1zM542 41h1v1h-1zM561 41h1v1h-1zM526 42h1v1h-1zM560 42h1v1h-1zM525 43h1v1h-1zM559 43h1v1h-1zM545 45h1v1h-1zM546 46h1v1h-1zM524 47h1v1h-1zM547 47h1v1h-1zM556 47h1v1h-1zM523 48h1v1h-1zM556 48h1v1h-1zM523 49h1v1h-1zM555 49h1v1h-1zM550 51h1v1h-1zM551 52h1v1h-1zM521 53h1v1h-1zM552 53h1v1h-1zM521 54h1v1h-1zM489 55h1v1h-1zM520 55h1v1h-1zM489 56h1v1h-1zM489 57h1v1h-1zM519 59h1v1h-1zM518 60h1v1h-1zM491 61h1v1h-1zM518 61h1v1h-1zM491 62h1v1h-1zM491 63h1v1h-1zM516 65h1v1h-1zM516 66h1v1h-1zM493 67h1v1h-1zM515 67h1v1h-1zM493 68h1v1h-1zM493 69h1v1h-1zM514 71h1v1h-1zM513 72h1v1h-1zM495 73h1v1h-1zM513 73h1v1h-1zM495 74h1v1h-1zM495 75h1v1h-1zM511 77h1v1h-1zM511 78h1v1h-1zM497 79h1v1h-1zM510 79h1v1h-1zM497 80h1v1h-1zM497 81h1v1h-1zM509 83h1v1h-1zM508 84h1v1h-1zM499 85h1v1h-1zM508 85h1v1h-1zM499 86h1v1h-1zM500 87h1v1h-1zM506 89h1v1h-1zM506 90h1v1h-1zM501 91h1v1h-1zM505 91h1v1h-1zM501 92h1v1h-1zM502 93h1v1h-1zM504 95h1v1h-1zM503 96h1v1h-1zM503 97h1v1h-1z" fill="#228b22" shape-rendering="crispEdges"/>
<g shape-rendering="crispEdges">
<rect x="2" y="2" width="1" height="459" fill="#000"/>
<rect x="2" y="2" width="569" height="1" fill="#000"/>
<rect x="570" y="2" width="1" height="374" fill="#000"/>
<rect x="2" y="375" width="569" height="1" fill="#000"/>
<rect x="2" y="377" width="573" height="1" fill="#000"/>
<rect x="570" y="377" width="1" height="80" fill="#000"/>
<rect x="2" y="456" width="573" height="1" fill="#000"/>
<rect x="571" y="23" width="4" height="1" fill="#000"/>
<rect x="571" y="55" width="4" height="1" fill="#000"/>
<rect x="571" y="87" width="4" height="1" fill="#000"/>
<rect x="571" y="119" width="4" height="1" fill="#000"/>
<rect x="571" y="151" width="4" height="1" fill="#000"/>
<rect x="571" y="183" width="4" height="1" fill="#000"/>
<rect x="571" y="215" width="4" height="1" fill="#000"/>
<rect x="571" y="247" width="4" height="1" fill="#000"/>
<rect x="571" y="279" width="4" height="1" fill="#000"/>
<rect x="571" y="311" width="4" height="1" fill="#000"/>
<rect x="571" y="343" width="4" height="1" fill="#000"/>
<rect x="571" y="401" width="4" height="1" fill="#000"/>
<rect x="571" y="432" width="4" height="1" fill="#000"/>
<rect x="130" y="456" width="1" height="5" fill="#000"/>
<rect x="258" y="456" width="1" height="5" fill="#000"/>
<rect x="386" y="456" width="1" height="5" fill="#000"/>
</g>
<g shape-rendering="crispEdges">
<rect x="3" y="402" width="1" height="25" fill="#000"/>
<rect x="4" y="405" width="1" height="22" fill="#000"/>
<rect x="5" y="408" width="1" height="19" fill="#000"/>
<rect x="6" y="409" width="1" height="18" fill="#000"/>
<rect x="7" y="411" width="1" height="16" fill="#000"/>
<rect x="8" y="412" width="1" height="15" fill="#000"/>
<rect x="9" y="412" width="1" height="15" fill="#000"/>
<rect x="10" y="413" width="1" height="14" fill="#000"/>
<rect x="11" y="414" width="1" height="13" fill="#000"/>
<rect x="12" y="415" width="1" height="12" fill="#000"/>
<rect x="13" y="416" width="1" height="11" fill="#000"/>
<rect x="14" y="417" width="1" height="10" fill="#000"/>
<rect x="15" y="418" width="1" height="9" fill="#000"/>
<rect x="16" y="419" width="1" height="8" fill="#000"/>
<rect x="17" y="421" width="1" height="6" fill="#000"/>
<rect x="18" y="422" width="1" height="5" fill="#000"/>
<rect x="19" y="424" width="1" height="3" fill="#000"/>
<rect x="20" y="426" width="1" height="1" fill="#000"/>
<rect x="21" y="427" width="1" height="2" fill="#000"/>
<rect x="22" y="427" width="1" height="2" fill="#000"/>
<rect x="23" y="425" width="1" height="2" fill="#000"/>
<rect x="24" y="425" width="1" height="2" fill="#000"/>
<rect x="25" y="425" width="1" height="2" fill="#000"/>
<rect x="26" y="424" width="1" height="3" fill="#000"/>
<rect x="27" y="427" width="1" height="2" fill="#000"/>
<rect x="28" y="427" width="1" height="2" fill="#000"/>
<rect x="29" y="427" width="1" height="2" fill="#000"/>
<rect x="30" y="427" width="1" height="2" fill="#000"/>
<rect x="31" y="423" width="1" height="4" fill="#000"/>
<rect x="32" y="423" width="1" height="4" fill="#000"/>
<rect x="33" y="423" width="1" height="4" fill="#000"/>
<rect x="34" y="424" width="1" height="3" fill="#000"/>
<rect x="35" y="426" width="1" height="1" fill="#000"/>
<rect x="36" y="426" width="1" height="1" fill="#000"/>
<rect x="37" y="427" width="1" height="2" fill="#000"/>
<rect x="38" y="427" width="1" height="3" fill="#000"/>
<rect x="39" y="427" width="1" height="4" fill="#000"/>
<rect x="40" y="427" width="1" height="5" fill="#000"/>
<rect x="41" y="427" width="1" height="6" fill="#000"/>
<rect x="42" y="427" width="1" height="5" fill="#000"/>
<rect x="43" y="427" width="1" height="4" fill="#000"/>
<rect x="44" y="427" width="1" height="2" fill="#000"/>
<rect x="45" y="425" width="1" height="2" fill="#000"/>
<rect x="46" y="424" width="1" height="3" fill="#000"/>
<rect x="47" y="423" width="1" height="4" fill="#000"/>
<rect x="48" y="422" width="1" height="5" fill="#000"/>
<rect x="49" y="421" width="1" height="6" fill="#000"/>
<rect x="50" y="421" width="1" height="6" fill="#000"/>
<rect x="51" y="421" width="1" height="6" fill="#000"/>
<rect x="52" y="423" width="1" height="4" fill="#000"/>
<rect x="53" y="423" width="1" height="4" fill="#000"/>
<rect x="54" y="423" width="1" height="4" fill="#000"/>
<rect x="55" y="423" width="1" height="4" fill="#000"/>
<rect x="56" y="423" width="1" height="4" fill="#000"/>
<rect x="57" y="423" width="1" height="4" fill="#000"/>
<rect x="58" y="423" width="1" height="4" fill="#000"/>
<rect x="59" y="424" width="1" height="3" fill="#000"/>
<rect x="60" y="426" width="1" height="1" fill="#000"/>
<rect x="61" y="426" width="1" height="1" fill="#000"/>
<rect x="62" y="427" width="1" height="2" fill="#000"/>
<rect x="63" y="427" width="1" height="4" fill="#000"/>
<rect x="64" y="427" width="1" height="6" fill="#000"/>
<rect x="65" y="427" width="1" height="8" fill="#000"/>
<rect x="66" y="427" width="1" height="9" fill="#000"/>
<rect x="67" y="427" width="1" height="11" fill="#000"/>
<rect x="68" y="427" width="1" height="12" fill="#000"/>
<rect x="69" y="427" width="1" height="14" fill="#000"/>
<rect x="70" y="427" width="1" height="13" fill="#000"/>
<rect x="71" y="427" width="1" height="12" fill="#000"/>
<rect x="72" y="427" width="1" height="11" fill="#000"/>
<rect x="73" y="427" width="1" height="9" fill="#000"/>
<rect x="74" y="427" width="1" height="6" fill="#000"/>
<rect x="75" y="427" width="1" height="5" fill="#000"/>
<rect x="76" y="427" width="1" height="3" fill="#000"/>
<rect x="77" y="427" width="1" height="2" fill="#000"/>
<rect x="78" y="426" width="1" height="1" fill="#000"/>
<rect x="79" y="426" width="1" height="1" fill="#000"/>
<rect x="80" y="426" width="1" height="1" fill="#000"/>
<rect x="81" y="426" width="1" height="1" fill="#000"/>
<rect x="82" y="425" width="1" height="2" fill="#000"/>
<rect x="83" y="424" width="1" height="3" fill="#000"/>
<rect x="84" y="424" width="1" height="3" fill="#000"/>
<rect x="85" y="423" width="1" height="4" fill="#000"/>
<rect x="86" y="422" width="1" height="5" fill="#000"/>
<rect x="87" y="423" width="1" height="4" fill="#000"/>
<rect x="88" y="423" width="1" height="4" fill="#000"/>
<rect x="89" y="423" width="1" height="4" fill="#000"/>
<rect x="90" y="424" width="1" height="3" fill="#000"/>
<rect x="91" y="423" width="1" height="4" fill="#000"/>
<rect x="92" y="423" width="1" height="4" fill="#000"/>
<rect x="93" y="423" width="1" height="4" fill="#000"/>
<rect x="94" y="422" width="1" height="5" fill="#000"/>
<rect x="95" y="422" width="1" height="5" fill="#000"/>
<rect x="96" y="421" width="1" height="6" fill="#000"/>
<rect x="97" y="420" width="1" height="7" fill="#000"/>
<rect x="98" y="420" width="1" height="7" fill="#000"/>
<rect x="99" y="421" width="1" height="6" fill="#000"/>
<rect x="100" y="421" width="1" height="6" fill="#000"/>
<rect x="101" y="421" width="1" height="6" fill="#000"/>
<rect x="102" y="421" width="1" height="6" fill="#000"/>
<rect x="103" y="421" width="1" height="6" fill="#000"/>
<rect x="104" y="421" width="1" height="6" fill="#000"/>
<rect x="105" y="421" width="1" height="6" fill="#000"/>
<rect x="106" y="422" width="1" height="5" fill="#000"/>
<rect x="107" y="423" width="1" height="4" fill="#000"/>
<rect x="108" y="424" width="1" height="3" fill="#000"/>
<rect x="109" y="426" width="1" height="1" fill="#000"/>
<rect x="110" y="426" width="1" height="1" fill="#000"/>
<rect x="111" y="427" width="1" height="3" fill="#000"/>
<rect x="112" y="427" width="1" height="5" fill="#000"/>
<rect x="113" y="427" width="1" height="6" fill="#000"/>
<rect x="114" y="427" width="1" height="6" fill="#000"/>
<rect x="115" y="427" width="1" height="6" fill="#000"/>
<rect x="116" y="427" width="1" height="4" fill="#000"/>
<rect x="117" y="427" width="1" height="3" fill="#000"/>
<rect x="118" y="427" width="1" height="2" fill="#000"/>
<rect x="119" y="427" width="1" height="2" fill="#000"/>
<rect x="120" y="427" width="1" height="2" fill="#000"/>
<rect x="121" y="427" width="1" height="2" fill="#000"/>
<rect x="122" y="427" width="1" height="2" fill="#000"/>
<rect x="123" y="426" width="1" height="1" fill="#000"/>
<rect x="124" y="426" width="1" height="1" fill="#000"/>
<rect x="125" y="426" width="1" height="1" fill="#000"/>
<rect x="126" y="426" width="1" height="1" fill="#000"/>
<rect x="127" y="426" width="1" height="1" fill="#000"/>
<rect x="128" y="426" width="1" height="1" fill="#000"/>
<rect x="129" y="426" width="1" height="1" fill="#000"/>
<rect x="130" y="426" width="1" height="1" fill="#000"/>
<rect x="131" y="426" width="1" height="1" fill="#000"/>
<rect x="132" y="427" width="1" height="3" fill="#000"/>
<rect x="133" y="427" width="1" height="5" fill="#000"/>
<rect x="134" y="427" width="1" height="5" fill="#000"/>
<rect x="135" y="427" width="1" height="6" fill="#000"/>
<rect x="136" y="427" width="1" height="7" fill="#000"/>
<rect x="137" y="427" width="1" height="7" fill="#000"/>
<rect x="138" y="427" width="1" height="7" fill="#000"/>
<rect x="139" y="427" width="1" height="6" fill="#000"/>
<rect x="140" y="427" width="1" height="8" fill="#000"/>
<rect x="141" y="427" width="1" height="9" fill="#000"/>
<rect x="142" y="427" width="1" height="9" fill="#000"/>
<rect x="143" y="427" width="1" height="10" fill="#000"/>
<rect x="144" y="427" width="1" height="10" fill="#000"/>
<rect x="145" y="427" width="1" height="9" fill="#000"/>
<rect x="146" y="427" width="1" height="8" fill="#000"/>
<rect x="147" y="427" width="1" height="6" fill="#000"/>
<rect x="148" y="427" width="1" height="5" fill="#000"/>
<rect x="149" y="427" width="1" height="4" fill="#000"/>
<rect x="150" y="427" width="1" height="4" fill="#000"/>
<rect x="151" y="427" width="1" height="3" fill="#000"/>
<rect x="152" y="427" width="1" height="2" fill="#000"/>
<rect x="153" y="426" width="1" height="1" fill="#000"/>
<rect x="154" y="426" width="1" height="1" fill="#000"/>
<rect x="155" y="426" width="1" height="1" fill="#000"/>
<rect x="156" y="426" width="1" height="1" fill="#000"/>
<rect x="157" y="426" width="1" height="1" fill="#000"/>
<rect x="158" y="426" width="1" height="1" fill="#000"/>
<rect x="159" y="426" width="1" height="1" fill="#000"/>
<rect x="160" y="426" width="1" height="1" fill="#000"/>
<rect x="161" y="426" width="1" height="1" fill="#000"/>
<rect x="162" y="426" width="1" height="1" fill="#000"/>
<rect x="163" y="426" width="1" height="1" fill="#000"/>
<rect x="164" y="426" width="1" height="1" fill="#000"/>
<rect x="165" y="426" width="1" height="1" fill="#000"/>
<rect x="166" y="426" width="1" height="1" fill="#000"/>
<rect x="167" y="426" width="1" height="1" fill="#000"/>
<rect x="168" y="426" width="1" height="1" fill="#000"/>
<rect x="169" y="426" width="1" height="1" fill="#000"/>
<rect x="170" y="426" width="1" height="1" fill="#000"/>
<rect x="171" y="426" width="1" height="1" fill="#000"/>
<rect x="172" y="427" width="1" height="3" fill="#000"/>
<rect x="173" y="426" width="1" height="1" fill="#000"/>
<rect x="174" y="426" width="1" height="1" fill="#000"/>
<rect x="175" y="426" width="1" height="1" fill="#000"/>
<rect x="176" y="427" width="1" height="2" fill="#000"/>
<rect x="177" y="427" width="1" height="2" fill="#000"/>
<rect x="178" y="427" width="1" height="2" fill="#000"/>
<rect x="179" y="427" width="1" height="3" fill="#000"/>
<rect x="180" y="427" width="1" height="3" fill="#000"/>
<rect x="181" y="427" width="1" height="3" fill="#000"/>
<rect x="182" y="427" width="1" height="4" fill="#000"/>
<rect x="183" y="427" width="1" height="4" fill="#000"/>
<rect x="184" y="427" width="1" height="4" fill="#000"/>
<rect x="185" y="427" width="1" height="4" fill="#000"/>
<rect x="186" y="427" width="1" height="4" fill="#000"/>
<rect x="187" y="427" width="1" height="4" fill="#000"/>
<rect x="188" y="427" width="1" height="5" fill="#000"/>
<rect x="189" y="427" width="1" height="5" fill="#000"/>
<rect x="190" y="427" width="1" height="5" fill="#000"/>
<rect x="191" y="427" width="1" height="5" fill="#000"/>
<rect x="192" y="427" width="1" height="5" fill="#000"/>
<rect x="193" y="427" width="1" height="5" fill="#000"/>
<rect x="194" y="427" width="1" height="6" fill="#000"/>
<rect x="195" y="427" width="1" height="6" fill="#000"/>
<rect x="196" y="427" width="1" height="6" fill="#000"/>
<rect x="197" y="427" width="1" height="6" fill="#000"/>
<rect x="198" y="427" width="1" height="6" fill="#000"/>
<rect x="199" y="427" width="1" height="6" fill="#000"/>
<rect x="200" y="427" width="1" height="6" fill="#000"/>
<rect x="201" y="427" width="1" height="7" fill="#000"/>
<rect x="202" y="427" width="1" height="7" fill="#000"/>
<rect x="203" y="427" width="1" height="7" fill="#000"/>
<rect x="204" y="427" width="1" height="7" fill="#000"/>
<rect x="205" y="427" width="1" height="7" fill="#000"/>
<rect x="206" y="427" width="1" height="7" fill="#000"/>
<rect x="207" y="427" width="1" height="7" fill="#000"/>
<rect x="208" y="427" width="1" height="7" fill="#000"/>
<rect x="209" y="427" width="1" height="7" fill="#000"/>
<rect x="210" y="427" width="1" height="7" fill="#000"/>
<rect x="211" y="427" width="1" height="7" fill="#000"/>
<rect x="212" y="427" width="1" height="7" fill="#000"/>
<rect x="213" y="427" width="1" height="6" fill="#000"/>
<rect x="214" y="427" width="1" height="6" fill="#000"/>
<rect x="215" y="427" width="1" height="6" fill="#000"/>
<rect x="216" y="427" width="1" height="5" fill="#000"/>
<rect x="217" y="427" width="1" height="4" fill="#000"/>
<rect x="218" y="427" width="1" height="4" fill="#000"/>
<rect x="219" y="427" width="1" height="3" fill="#000"/>
<rect x="220" y="427" width="1" height="2" fill="#000"/>
<rect x="221" y="426" width="1" height="1" fill="#000"/>
<rect x="222" y="425" width="1" height="2" fill="#000"/>
<rect x="223" y="423" width="1" height="4" fill="#000"/>
<rect x="224" y="421" width="1" height="6" fill="#000"/>
<rect x="225" y="419" width="1" height="8" fill="#000"/>
<rect x="226" y="418" width="1" height="9" fill="#000"/>
<rect x="227" y="416" width="1" height="11" fill="#000"/>
<rect x="228" y="416" width="1" height="11" fill="#000"/>
<rect x="229" y="417" width="1" height="10" fill="#000"/>
<rect x="230" y="418" width="1" height="9" fill="#000"/>
<rect x="231" y="418" width="1" height="9" fill="#000"/>
<rect x="232" y="418" width="1" height="9" fill="#000"/>
<rect x="233" y="419" width="1" height="8" fill="#000"/>
<rect x="234" y="419" width="1" height="8" fill="#000"/>
<rect x="235" y="419" width="1" height="8" fill="#000"/>
<rect x="236" y="419" width="1" height="8" fill="#000"/>
<rect x="237" y="419" width="1" height="8" fill="#000"/>
<rect x="238" y="419" width="1" height="8" fill="#000"/>
<rect x="239" y="418" width="1" height="9" fill="#000"/>
<rect x="240" y="418" width="1" height="9" fill="#000"/>
<rect x="241" y="419" width="1" height="8" fill="#000"/>
<rect x="242" y="419" width="1" height="8" fill="#000"/>
<rect x="243" y="419" width="1" height="8" fill="#000"/>
<rect x="244" y="420" width="1" height="7" fill="#000"/>
<rect x="245" y="420" width="1" height="7" fill="#000"/>
<rect x="246" y="420" width="1" height="7" fill="#000"/>
<rect x="247" y="421" width="1" height="6" fill="#000"/>
<rect x="248" y="422" width="1" height="5" fill="#000"/>
<rect x="249" y="422" width="1" height="5" fill="#000"/>
<rect x="250" y="422" width="1" height="5" fill="#000"/>
<rect x="251" y="423" width="1" height="4" fill="#000"/>
<rect x="252" y="422" width="1" height="5" fill="#000"/>
<rect x="253" y="422" width="1" height="5" fill="#000"/>
<rect x="254" y="421" width="1" height="6" fill="#000"/>
<rect x="255" y="419" width="1" height="8" fill="#000"/>
<rect x="256" y="418" width="1" height="9" fill="#000"/>
<rect x="257" y="417" width="1" height="10" fill="#000"/>
<rect x="258" y="416" width="1" height="11" fill="#000"/>
<rect x="259" y="416" width="1" height="11" fill="#000"/>
<rect x="260" y="416" width="1" height="11" fill="#000"/>
<rect x="261" y="416" width="1" height="11" fill="#000"/>
<rect x="262" y="416" width="1" height="11" fill="#000"/>
<rect x="263" y="417" width="1" height="10" fill="#000"/>
<rect x="264" y="418" width="1" height="9" fill="#000"/>
<rect x="265" y="418" width="1" height="9" fill="#000"/>
<rect x="266" y="418" width="1" height="9" fill="#000"/>
<rect x="267" y="417" width="1" height="10" fill="#000"/>
<rect x="268" y="418" width="1" height="9" fill="#000"/>
<rect x="269" y="418" width="1" height="9" fill="#000"/>
<rect x="270" y="418" width="1" height="9" fill="#000"/>
<rect x="271" y="418" width="1" height="9" fill="#000"/>
<rect x="272" y="418" width="1" height="9" fill="#000"/>
<rect x="273" y="418" width="1" height="9" fill="#000"/>
<rect x="274" y="418" width="1" height="9" fill="#000"/>
<rect x="275" y="418" width="1" height="9" fill="#000"/>
<rect x="276" y="417" width="1" height="10" fill="#000"/>
<rect x="277" y="415" width="1" height="12" fill="#000"/>
<rect x="278" y="413" width="1" height="14" fill="#000"/>
<rect x="279" y="411" width="1" height="16" fill="#000"/>
<rect x="280" y="408" width="1" height="19" fill="#000"/>
<rect x="281" y="405" width="1" height="22" fill="#000"/>
<rect x="282" y="400" width="1" height="27" fill="#000"/>
<rect x="283" y="395" width="1" height="32" fill="#000"/>
<rect x="284" y="391" width="1" height="36" fill="#000"/>
<rect x="285" y="392" width="1" height="35" fill="#000"/>
<rect x="286" y="394" width="1" height="33" fill="#000"/>
<rect x="287" y="395" width="1" height="32" fill="#000"/>
<rect x="288" y="396" width="1" height="31" fill="#000"/>
<rect x="289" y="394" width="1" height="33" fill="#000"/>
<rect x="290" y="391" width="1" height="36" fill="#000"/>
<rect x="291" y="390" width="1" height="37" fill="#000"/>
<rect x="292" y="389" width="1" height="38" fill="#000"/>
<rect x="293" y="388" width="1" height="39" fill="#000"/>
<rect x="294" y="388" width="1" height="39" fill="#000"/>
<rect x="295" y="389" width="1" height="38" fill="#000"/>
<rect x="296" y="391" width="1" height="36" fill="#000"/>
<rect x="297" y="394" width="1" height="33" fill="#000"/>
<rect x="298" y="397" width="1" height="30" fill="#000"/>
<rect x="299" y="398" width="1" height="29" fill="#000"/>
<rect x="300" y="396" width="1" height="31" fill="#000"/>
<rect x="301" y="394" width="1" height="33" fill="#000"/>
<rect x="302" y="392" width="1" height="35" fill="#000"/>
<rect x="303" y="392" width="1" height="35" fill="#000"/>
<rect x="304" y="391" width="1" height="36" fill="#000"/>
<rect x="305" y="389" width="1" height="38" fill="#000"/>
<rect x="306" y="388" width="1" height="39" fill="#000"/>
<rect x="307" y="385" width="1" height="42" fill="#000"/>
<rect x="308" y="385" width="1" height="42" fill="#000"/>
<rect x="309" y="385" width="1" height="42" fill="#000"/>
<rect x="310" y="389" width="1" height="38" fill="#000"/>
<rect x="311" y="399" width="1" height="28" fill="#000"/>
<rect x="312" y="405" width="1" height="22" fill="#000"/>
<rect x="313" y="412" width="1" height="15" fill="#000"/>
<rect x="314" y="416" width="1" height="11" fill="#000"/>
<rect x="315" y="419" width="1" height="8" fill="#000"/>
<rect x="316" y="421" width="1" height="6" fill="#000"/>
<rect x="317" y="423" width="1" height="4" fill="#000"/>
<rect x="318" y="425" width="1" height="2" fill="#000"/>
<rect x="319" y="426" width="1" height="1" fill="#000"/>
<rect x="320" y="427" width="1" height="4" fill="#000"/>
<rect x="321" y="427" width="1" height="9" fill="#000"/>
<rect x="322" y="427" width="1" height="12" fill="#000"/>
<rect x="323" y="427" width="1" height="12" fill="#000"/>
<rect x="324" y="427" width="1" height="10" fill="#000"/>
<rect x="325" y="427" width="1" height="7" fill="#000"/>
<rect x="326" y="427" width="1" height="5" fill="#000"/>
<rect x="327" y="427" width="1" height="3" fill="#000"/>
<rect x="328" y="427" width="1" height="2" fill="#000"/>
<rect x="329" y="427" width="1" height="2" fill="#000"/>
<rect x="330" y="427" width="1" height="3" fill="#000"/>
<rect x="331" y="427" width="1" height="4" fill="#000"/>
<rect x="332" y="427" width="1" height="5" fill="#000"/>
<rect x="333" y="427" width="1" height="6" fill="#000"/>
<rect x="334" y="427" width="1" height="6" fill="#000"/>
<rect x="335" y="427" width="1" height="3" fill="#000"/>
<rect x="336" y="426" width="1" height="1" fill="#000"/>
<rect x="337" y="425" width="1" height="2" fill="#000"/>
<rect x="338" y="423" width="1" height="4" fill="#000"/>
<rect x="339" y="421" width="1" height="6" fill="#000"/>
<rect x="340" y="419" width="1" height="8" fill="#000"/>
<rect x="341" y="418" width="1" height="9" fill="#000"/>
<rect x="342" y="416" width="1" height="11" fill="#000"/>
<rect x="343" y="414" width="1" height="13" fill="#000"/>
<rect x="344" y="411" width="1" height="16" fill="#000"/>
<rect x="345" y="411" width="1" height="16" fill="#000"/>
<rect x="346" y="414" width="1" height="13" fill="#000"/>
<rect x="347" y="415" width="1" height="12" fill="#000"/>
<rect x="348" y="414" width="1" height="13" fill="#000"/>
<rect x="349" y="412" width="1" height="15" fill="#000"/>
<rect x="350" y="411" width="1" height="16" fill="#000"/>
<rect x="351" y="410" width="1" height="17" fill="#000"/>
<rect x="352" y="409" width="1" height="18" fill="#000"/>
<rect x="353" y="408" width="1" height="19" fill="#000"/>
<rect x="354" y="406" width="1" height="21" fill="#000"/>
<rect x="355" y="405" width="1" height="22" fill="#000"/>
<rect x="356" y="404" width="1" height="23" fill="#000"/>
<rect x="357" y="404" width="1" height="23" fill="#000"/>
<rect x="358" y="403" width="1" height="24" fill="#000"/>
<rect x="359" y="403" width="1" height="24" fill="#000"/>
<rect x="360" y="403" width="1" height="24" fill="#000"/>
<rect x="361" y="404" width="1" height="23" fill="#000"/>
<rect x="362" y="404" width="1" height="23" fill="#000"/>
<rect x="363" y="406" width="1" height="21" fill="#000"/>
<rect x="364" y="407" width="1" height="20" fill="#000"/>
<rect x="365" y="409" width="1" height="18" fill="#000"/>
<rect x="366" y="412" width="1" height="15" fill="#000"/>
<rect x="367" y="415" width="1" height="12" fill="#000"/>
<rect x="368" y="418" width="1" height="9" fill="#000"/>
<rect x="369" y="422" width="1" height="5" fill="#000"/>
<rect x="370" y="426" width="1" height="1" fill="#000"/>
<rect x="371" y="427" width="1" height="3" fill="#000"/>
<rect x="372" y="427" width="1" height="2" fill="#000"/>
<rect x="373" y="426" width="1" height="1" fill="#000"/>
<rect x="374" y="422" width="1" height="5" fill="#000"/>
<rect x="375" y="420" width="1" height="7" fill="#000"/>
<rect x="376" y="418" width="1" height="9" fill="#000"/>
<rect x="377" y="416" width="1" height="11" fill="#000"/>
<rect x="378" y="414" width="1" height="13" fill="#000"/>
<rect x="379" y="413" width="1" height="14" fill="#000"/>
<rect x="380" y="412" width="1" height="15" fill="#000"/>
<rect x="381" y="412" width="1" height="15" fill="#000"/>
<rect x="382" y="413" width="1" height="14" fill="#000"/>
<rect x="383" y="412" width="1" height="15" fill="#000"/>
<rect x="384" y="411" width="1" height="16" fill="#000"/>
<rect x="385" y="410" width="1" height="17" fill="#000"/>
<rect x="386" y="409" width="1" height="18" fill="#000"/>
<rect x="387" y="409" width="1" height="18" fill="#000"/>
<rect x="388" y="408" width="1" height="19" fill="#000"/>
<rect x="389" y="408" width="1" height="19" fill="#000"/>
<rect x="390" y="407" width="1" height="20" fill="#000"/>
<rect x="391" y="406" width="1" height="21" fill="#000"/>
<rect x="392" y="406" width="1" height="21" fill="#000"/>
<rect x="393" y="405" width="1" height="22" fill="#000"/>
<rect x="394" y="404" width="1" height="23" fill="#000"/>
<rect x="395" y="403" width="1" height="24" fill="#000"/>
<rect x="396" y="402" width="1" height="25" fill="#000"/>
<rect x="397" y="402" width="1" height="25" fill="#000"/>
<rect x="398" y="403" width="1" height="24" fill="#000"/>
<rect x="399" y="406" width="1" height="21" fill="#000"/>
<rect x="400" y="410" width="1" height="17" fill="#000"/>
<rect x="401" y="420" width="1" height="7" fill="#000"/>
<rect x="402" y="427" width="1" height="2" fill="#000"/>
<rect x="403" y="427" width="1" height="4" fill="#000"/>
<rect x="404" y="427" width="1" height="6" fill="#000"/>
<rect x="405" y="427" width="1" height="9" fill="#000"/>
<rect x="406" y="427" width="1" height="12" fill="#000"/>
<rect x="407" y="427" width="1" height="16" fill="#000"/>
<rect x="408" y="427" width="1" height="19" fill="#000"/>
<rect x="409" y="427" width="1" height="18" fill="#000"/>
<rect x="410" y="427" width="1" height="16" fill="#000"/>
<rect x="411" y="427" width="1" height="13" fill="#000"/>
<rect x="412" y="427" width="1" height="9" fill="#000"/>
<rect x="413" y="427" width="1" height="4" fill="#000"/>
<rect x="414" y="425" width="1" height="2" fill="#000"/>
<rect x="415" y="424" width="1" height="3" fill="#000"/>
<rect x="416" y="422" width="1" height="5" fill="#000"/>
<rect x="417" y="421" width="1" height="6" fill="#000"/>
<rect x="418" y="419" width="1" height="8" fill="#000"/>
<rect x="419" y="418" width="1" height="9" fill="#000"/>
<rect x="420" y="418" width="1" height="9" fill="#000"/>
<rect x="421" y="416" width="1" height="11" fill="#000"/>
<rect x="422" y="414" width="1" height="13" fill="#000"/>
<rect x="423" y="412" width="1" height="15" fill="#000"/>
<rect x="424" y="411" width="1" height="16" fill="#000"/>
<rect x="425" y="412" width="1" height="15" fill="#000"/>
<rect x="426" y="414" width="1" height="13" fill="#000"/>
<rect x="427" y="416" width="1" height="11" fill="#000"/>
<rect x="428" y="419" width="1" height="8" fill="#000"/>
<rect x="429" y="423" width="1" height="4" fill="#000"/>
<rect x="430" y="426" width="1" height="1" fill="#000"/>
<rect x="431" y="427" width="1" height="2" fill="#000"/>
<rect x="432" y="427" width="1" height="5" fill="#000"/>
<rect x="433" y="427" width="1" height="6" fill="#000"/>
<rect x="434" y="427" width="1" height="8" fill="#000"/>
<rect x="435" y="427" width="1" height="10" fill="#000"/>
<rect x="436" y="427" width="1" height="12" fill="#000"/>
<rect x="437" y="427" width="1" height="15" fill="#000"/>
<rect x="438" y="427" width="1" height="18" fill="#000"/>
<rect x="439" y="427" width="1" height="19" fill="#000"/>
<rect x="440" y="427" width="1" height="18" fill="#000"/>
<rect x="441" y="427" width="1" height="18" fill="#000"/>
<rect x="442" y="427" width="1" height="17" fill="#000"/>
<rect x="443" y="427" width="1" height="16" fill="#000"/>
<rect x="444" y="427" width="1" height="15" fill="#000"/>
<rect x="445" y="427" width="1" height="14" fill="#000"/>
<rect x="446" y="427" width="1" height="13" fill="#000"/>
<rect x="447" y="427" width="1" height="13" fill="#000"/>
<rect x="448" y="427" width="1" height="11" fill="#000"/>
<rect x="449" y="427" width="1" height="10" fill="#000"/>
<rect x="450" y="427" width="1" height="9" fill="#000"/>
<rect x="451" y="427" width="1" height="8" fill="#000"/>
<rect x="452" y="427" width="1" height="6" fill="#000"/>
<rect x="453" y="427" width="1" height="5" fill="#000"/>
<rect x="454" y="427" width="1" height="4" fill="#000"/>
<rect x="455" y="427" width="1" height="3" fill="#000"/>
<rect x="456" y="427" width="1" height="2" fill="#000"/>
<rect x="457" y="427" width="1" height="2" fill="#000"/>
<rect x="458" y="426" width="1" height="1" fill="#000"/>
<rect x="459" y="426" width="1" height="1" fill="#000"/>
<rect x="460" y="426" width="1" height="1" fill="#000"/>
<rect x="461" y="425" width="1" height="2" fill="#000"/>
<rect x="462" y="424" width="1" height="3" fill="#000"/>
<rect x="463" y="423" width="1" height="4" fill="#000"/>
<rect x="464" y="422" width="1" height="5" fill="#000"/>
<rect x="465" y="420" width="1" height="7" fill="#000"/>
<rect x="466" y="419" width="1" height="8" fill="#000"/>
<rect x="467" y="417" width="1" height="10" fill="#000"/>
<rect x="468" y="416" width="1" height="11" fill="#000"/>
<rect x="469" y="413" width="1" height="14" fill="#000"/>
<rect x="470" y="411" width="1" height="16" fill="#000"/>
<rect x="471" y="410" width="1" height="17" fill="#000"/>
<rect x="472" y="409" width="1" height="18" fill="#000"/>
<rect x="473" y="409" width="1" height="18" fill="#000"/>
<rect x="474" y="409" width="1" height="18" fill="#000"/>
<rect x="475" y="409" width="1" height="18" fill="#000"/>
<rect x="476" y="409" width="1" height="18" fill="#000"/>
<rect x="477" y="411" width="1" height="16" fill="#000"/>
<rect x="478" y="412" width="1" height="15" fill="#000"/>
<rect x="479" y="414" width="1" height="13" fill="#000"/>
<rect x="480" y="415" width="1" height="12" fill="#000"/>
<rect x="481" y="416" width="1" height="11" fill="#000"/>
<rect x="482" y="418" width="1" height="9" fill="#000"/>
<rect x="483" y="416" width="1" height="11" fill="#000"/>
<rect x="484" y="415" width="1" height="12" fill="#000"/>
<rect x="485" y="414" width="1" height="13" fill="#000"/>
<rect x="486" y="414" width="1" height="13" fill="#000"/>
<rect x="3" y="401" width="2" height="1" fill="#c0c0c0"/>
<rect x="8" y="401" width="3" height="1" fill="#c0c0c0"/>
<rect x="14" y="401" width="3" height="1" fill="#c0c0c0"/>
<rect x="20" y="401" width="3" height="1" fill="#c0c0c0"/>
<rect x="26" y="401" width="3" height="1" fill="#c0c0c0"/>
<rect x="32" y="401" width="3" height="1" fill="#c0c0c0"/>
<rect x="38" y="401" width="3" height="1" fill="#c0c0c0"/>
<rect x="44" y="401" width="3" height="1" fill="#c0c0c0"/>
<rect x="50" y="401" width="3" height="1" fill="#c0c0c0"/>
<rect x="56" y="401" width="3" height="1" fill="#c0c0c0"/>
<rect x="62" y="401" width="3" height="1" fill="#c0c0c0"/>
<rect x="68" y="401" width="3" height="1" fill="#c0c0c0"/>
<rect x="74" y="401" width="3" height="1" fill="#c0c0c0"/>
<rect x="80" y="401" width="3" height="1" fill="#c0c0c0"/>
<rect x="86" y="401" width="3" height="1" fill="#c0c0c0"/>
<rect x="92" y="401" width="3" height="1" fill="#c0c0c0"/>
<rect x="98" y="401" width="3" height="1" fill="#c0c0c0"/>
<rect x="104" y="401" width="3" height="1" fill="#c0c0c0"/>
<rect x="110" y="401" width="3" height="1" fill="#c0c0c0"/>
<rect x="116" y="401" width="3" height="1" fill="#c0c0c0"/>
<rect x="122" y="401" width="3" height="1" fill="#c0c0c0"/>
<rect x="128" y="401" width="3" height="1" fill="#c0c0c0"/>
<rect x="134" y="401" width="3" height="1" fill="#c0c0c0"/>
<rect x="140" y="401" width="3" height="1" fill="#c0c0c0"/>
<rect x="146" y="401" width="3" height="1" fill="#c0c0c0"/>
<rect x="152" y="401" width="3" height="1" fill="#c0c0c0"/>
<rect x="158" y="401" width="3" height="1" fill="#c0c0c0"/>
<rect x="164" y="401" width="3" height="1" fill="#c0c0c0"/>
<rect x="170" y="401" width="3" height="1" fill="#c0c0c0"/>
<rect x="176" y="401" width="3" height="1" fill="#c0c0c0"/>
<rect x="182" y="401" width="3" height="1" fill="#c0c0c0"/>
<rect x="188" y="401" width="3" height="1" fill="#c0c0c0"/>
<rect x="194" y="401" width="3" height="1" fill="#c0c0c0"/>
<rect x="200" y="401" width="3" height="1" fill="#c0c0c0"/>
<rect x="206" y="401" width="3" height="1" fill="#c0c0c0"/>
<rect x="212" y="401" width="3" height="1" fill="#c0c0c0"/>
<rect x="218" y="401" width="3" height="1" fill="#c0c0c0"/>
<rect x="224" y="401" width="3" height="1" fill="#c0c0c0"/>
<rect x="230" y="401" width="3" height="1" fill="#c0c0c0"/>
<rect x="236" y="401" width="3" height="1" fill="#c0c0c0"/>
<rect x="242" y="401" width="3" height="1" fill="#c0c0c0"/>
<rect x="248" y="401" width="3" height="1" fill="#c0c0c0"/>
<rect x="254" y="401" width="3" height="1" fill="#c0c0c0"/>
<rect x="260" y="401" width="3" height="1" fill="#c0c0c0"/>
<rect x="266" y="401" width="3" height="1" fill="#c0c0c0"/>
<rect x="272" y="401" width="3" height="1" fill="#c0c0c0"/>
<rect x="278" y="401" width="3" height="1" fill="#c0c0c0"/>
<rect x="284" y="401" width="3" height="1" fill="#c0c0c0"/>
<rect x="290" y="401" width="3" height="1" fill="#c0c0c0"/>
<rect x="296" y="401" width="3" height="1" fill="#c0c0c0"/>
<rect x="302" y="401" width="3" height="1" fill="#c0c0c0"/>
<rect x="308" y="401" width="3" height="1" fill="#c0c0c0"/>
<rect x="314" y="401" width="3" height="1" fill="#c0c0c0"/>
<rect x="320" y="401" width="3" height="1" fill="#c0c0c0"/>
<rect x="326" y="401" width="3" height="1" fill="#c0c0c0"/>
<rect x="332" y="401" width="3" height="1" fill="#c0c0c0"/>
<rect x="338" y="401" width="3" height="1" fill="#c0c0c0"/>
<rect x="344" y="401" width="3" height="1" fill="#c0c0c0"/>
<rect x="350" y="401" width="3" height="1" fill="#c0c0c0"/>
<rect x="356" y="401" width="3" height="1" fill="#c0c0c0"/>
<rect x="362" y="401" width="3" height="1" fill="#c0c0c0"/>
<rect x="368" y="401" width="3" height="1" fill="#c0c0c0"/>
<rect x="374" y="401" width="3" height="1" fill="#c0c0c0"/>
<rect x="380" y="401" width="3" height="1" fill="#c0c0c0"/>
<rect x="386" y="401" width="3" height="1" fill="#c0c0c0"/>
<rect x="392" y="401" width="3" height="1" fill="#c0c0c0"/>
<rect x="398" y="401" width="3" height="1" fill="#c0c0c0"/>
<rect x="404" y="401" width="3" height="1" fill="#c0c0c0"/>
<rect x="410" y="401" width="3" height="1" fill="#c0c0c0"/>
<rect x="416" y="401" width="3" height="1" fill="#c0c0c0"/>
<rect x="422" y="401" width="3" height="1" fill="#c0c0c0"/>
<rect x="428" y="401" width="3" height="1" fill="#c0c0c0"/>
<rect x="434" y="401" width="3" height="1" fill="#c0c0c0"/>
<rect x="440" y="401" width="3" height="1" fill="#c0c0c0"/>
<rect x="446" y="401" width="3" height="1" fill="#c0c0c0"/>
<rect x="452" y="401" width="3" height="1" fill="#c0c0c0"/>
<rect x="458" y="401" width="3" height="1" fill="#c0c0c0"/>
<rect x="464" y="401" width="3" height="1" fill="#c0c0c0"/>
<rect x="470" y="401" width="3" height="1" fill="#c0c0c0"/>
<rect x="476" y="401" width="3" height="1" fill="#c0c0c0"/>
<rect x="482" y="401" width="3" height="1" fill="#c0c0c0"/>
<rect x="488" y="401" width="3" height="1" fill="#c0c0c0"/>
<rect x="494" y="401" width="3" height="1" fill="#c0c0c0"/>
<rect x="500" y="401" width="3" height="1" fill="#c0c0c0"/>
<rect x="506" y="401" width="3" height="1" fill="#c0c0c0"/>
<rect x="512" y="401" width="3" height="1" fill="#c0c0c0"/>
<rect x="518" y="401" width="3" height="1" fill="#c0c0c0"/>
<rect x="524" y="401" width="3" height="1" fill="#c0c0c0"/>
<rect x="530" y="401" width="3" height="1" fill="#c0c0c0"/>
<rect x="536" y="401" width="3" height="1" fill="#c0c0c0"/>
<rect x="542" y="401" width="3" height="1" fill="#c0c0c0"/>
<rect x="548" y="401" width="3" height="1" fill="#c0c0c0"/>
<rect x="554" y="401" width="3" height="1" fill="#c0c0c0"/>
<rect x="560" y="401" width="3" height="1" fill="#c0c0c0"/>
<rect x="566" y="401" width="3" height="1" fill="#c0c0c0"/>
<rect x="3" y="432" width="2" height="1" fill="#c0c0c0"/>
<rect x="8" y="432" width="3" height="1" fill="#c0c0c0"/>
<rect x="14" y="432" width="3" height="1" fill="#c0c0c0"/>
<rect x="20" y="432" width="3" height="1" fill="#c0c0c0"/>
<rect x="26" y="432" width="3" height="1" fill="#c0c0c0"/>
<rect x="32" y="432" width="3" height="1" fill="#c0c0c0"/>
<rect x="38" y="432" width="3" height="1" fill="#c0c0c0"/>
<rect x="44" y="432" width="3" height="1" fill="#c0c0c0"/>
<rect x="50" y="432" width="3" height="1" fill="#c0c0c0"/>
<rect x="56" y="432" width="3" height="1" fill="#c0c0c0"/>
<rect x="62" y="432" width="3" height="1" fill="#c0c0c0"/>
<rect x="68" y="432" width="3" height="1" fill="#c0c0c0"/>
<rect x="74" y="432" width="3" height="1" fill="#c0c0c0"/>
<rect x="80" y="432" width="3" height="1" fill="#c0c0c0"/>
<rect x="86" y="432" width="3" height="1" fill="#c0c0c0"/>
<rect x="92" y="432" width="3" height="1" fill="#c0c0c0"/>
<rect x="98" y="432" width="3" height="1" fill="#c0c0c0"/>
<rect x="104" y="432" width="3" height="1" fill="#c0c0c0"/>
<rect x="110" y="432" width="3" height="1" fill="#c0c0c0"/>
<rect x="116" y="432" width="3" height="1" fill="#c0c0c0"/>
<rect x="122" y="432" width="3" height="1" fill="#c0c0c0"/>
<rect x="128" y="432" width="3" height="1" fill="#c0c0c0"/>
<rect x="134" y="432" width="3" height="1" fill="#c0c0c0"/>
<rect x="140" y="432" width="3" height="1" fill="#c0c0c0"/>
<rect x="146" y="432" width="3" height="1" fill="#c0c0c0"/>
<rect x="152" y="432" width="3" height="1" fill="#c0c0c0"/>
<rect x="158" y="432" width="3" height="1" fill="#c0c0c0"/>
<rect x="164" y="432" width="3" height="1" fill="#c0c0c0"/>
<rect x="170" y="432" width="3" height="1" fill="#c0c0c0"/>
<rect x="176" y="432" width="3" height="1" fill="#c0c0c0"/>
<rect x="182" y="432" width="3" height="1" fill="#c0c0c0"/>
<rect x="188" y="432" width="3" height="1" fill="#c0c0c0"/>
<rect x="194" y="432" width="3" height="1" fill="#c0c0c0"/>
<rect x="200" y="432" width="3" height="1" fill="#c0c0c0"/>
<rect x="206" y="432" width="3" height="1" fill="#c0c0c0"/>
<rect x="212" y="432" width="3" height="1" fill="#c0c0c0"/>
<rect x="218" y="432" width="3" height="1" fill="#c0c0c0"/>
<rect x="224" y="432" width="3" height="1" fill="#c0c0c0"/>
<rect x="230" y="432" width="3" height="1" fill="#c0c0c0"/>
<rect x="236" y="432" width="3" height="1" fill="#c0c0c0"/>
<rect x="242" y="432" width="3" height="1" fill="#c0c0c0"/>
<rect x="248" y="432" width="3" height="1" fill="#c0c0c0"/>
<rect x="254" y="432" width="3" height="1" fill="#c0c0c0"/>
<rect x="260" y="432" width="3" height="1" fill="#c0c0c0"/>
<rect x="266" y="432" width="3" height="1" fill="#c0c0c0"/>
<rect x="272" y="432" width="3" height="1" fill="#c0c0c0"/>
<rect x="278" y="432" width="3" height="1" fill="#c0c0c0"/>
<rect x="284" y="432" width="3" height="1" fill="#c0c0c0"/>
<rect x="290" y="432" width="3" height="1" fill="#c0c0c0"/>
<rect x="296" y="432" width="3" height="1" fill="#c0c0c0"/>
<rect x="302" y="432" width="3" height="1" fill="#c0c0c0"/>
<rect x="308" y="432" width="3" height="1" fill="#c0c0c0"/>
<rect x="314" y="432" width="3" height="1" fill="#c0c0c0"/>
<rect x="320" y="432" width="3" height="1" fill="#c0c0c0"/>
<rect x="326" y="432" width="3" height="1" fill="#c0c0c0"/>
<rect x="332" y="432" width="3" height="1" fill="#c0c0c0"/>
<rect x="338" y="432" width="3" height="1" fill="#c0c0c0"/>
<rect x="344" y="432" width="3" height="1" fill="#c0c0c0"/>
<rect x="350" y="432" width="3" height="1" fill="#c0c0c0"/>
<rect x="356" y="432" width="3" height="1" fill="#c0c0c0"/>
<rect x="362" y="432" width="3" height="1" fill="#c0c0c0"/>
<rect x="368" y="432" width="3" height="1" fill="#c0c0c0"/>
<rect x="374" y="432" width="3" height="1" fill="#c0c0c0"/>
<rect x="380" y="432" width="3" height="1" fill="#c0c0c0"/>
<rect x="386" y="432" width="3" height="1" fill="#c0c0c0"/>
<rect x="392" y="432" width="3" height="1" fill="#c0c0c0"/>
<rect x="398" y="432" width="3" height="1" fill="#c0c0c0"/>
<rect x="404" y="432" width="3" height="1" fill="#c0c0c0"/>
<rect x="410" y="432" width="3" height="1" fill="#c0c0c0"/>
<rect x="416" y="432" width="3" height="1" fill="#c0c0c0"/>
<rect x="422" y="432" width="3" height="1" fill="#c0c0c0"/>
<rect x="428" y="432" width="3" height="1" fill="#c0c0c0"/>
<rect x="434" y="432" width="3" height="1" fill="#c0c0c0"/>
<rect x="440" y="432" width="3" height="1" fill="#c0c0c0"/>
<rect x="446" y="432" width="3" height="1" fill="#c0c0c0"/>
<rect x="452" y="432" width="3" height="1" fill="#c0c0c0"/>
<rect x="458" y="432" width="3" height="1" fill="#c0c0c0"/>
<rect x="464" y="432" width="3" height="1" fill="#c0c0c0"/>
<rect x="470" y="432" width="3" height="1" fill="#c0c0c0"/>
<rect x="476" y="432" width="3" height="1" fill="#c0c0c0"/>
<rect x="482" y="432" width="3" height="1" fill="#c0c0c0"/>
<rect x="488" y="432" width="3" height="1" fill="#c0c0c0"/>
<rect x="494" y="432" width="3" height="1" fill="#c0c0c0"/>
<rect x="500" y="432" width="3" height="1" fill="#c0c0c0"/>
<rect x="506" y="432" width="3" height="1" fill="#c0c0c0"/>
<rect x="512" y="432" width="3" height="1" fill="#c0c0c0"/>
<rect x="518" y="432" width="3" height="1" fill="#c0c0c0"/>
<rect x="524" y="432" width="3" height="1" fill="#c0c0c0"/>
<rect x="530" y="432" width="3" height="1" fill="#c0c0c0"/>
<rect x="536" y="432" width="3" height="1" fill="#c0c0c0"/>
<rect x="542" y="432" width="3" height="1" fill="#c0c0c0"/>
<rect x="548" y="432" width="3" height="1" fill="#c0c0c0"/>
<rect x="554" y="432" width="3" height="1" fill="#c0c0c0"/>
<rect x="560" y="432" width="3" height="1" fill="#c0c0c0"/>
<rect x="566" y="432" width="3" height="1" fill="#c0c0c0"/>
</g>
<path d="M309 386h1v1h-1zM308 387h1v1h-1zM311 387h1v1h-1zM295 388h1v1h-1zM311 388h1v1h-1zM296 389h1v1h-1zM306 390h1v1h-1zM292 391h1v1h-1zM305 391h1v1h-1zM311 391h1v1h-1zM286 392h1v1h-1zM291 392h1v1h-1zM298 392h1v1h-1zM311 392h1v1h-1zM285 393h1v1h-1zM298 393h1v1h-1zM290 394h1v1h-1zM289 395h1v1h-1zM302 395h1v1h-1zM312 395h1v1h-1zM299 396h1v1h-1zM302 396h1v1h-1zM312 396h1v1h-1zM284 397h1v1h-1zM300 397h1v1h-1zM284 398h1v1h-1zM312 398h1v1h-1zM313 399h1v1h-1zM283 401h1v1h-1zM3 402h2v1h-2zM283 402h1v1h-1zM313 402h1v1h-1zM313 403h1v1h-1zM360 403h2v1h-2zM398 403h2v1h-2zM282 404h1v1h-1zM6 405h1v1h-1zM282 405h1v1h-1zM357 405h1v1h-1zM364 405h1v1h-1zM394 405h2v1h-2zM313 406h1v1h-1zM356 406h1v1h-1zM365 406h1v1h-1zM400 406h1v1h-1zM6 407h1v1h-1zM314 407h1v1h-1zM391 407h1v1h-1zM400 407h1v1h-1zM281 408h1v1h-1zM390 408h1v1h-1zM8 409h1v1h-1zM281 409h1v1h-1zM366 409h1v1h-1zM474 409h2v1h-2zM314 410h1v1h-1zM353 410h1v1h-1zM367 410h1v1h-1zM387 410h1v1h-1zM401 410h1v1h-1zM478 410h1v1h-1zM9 411h1v1h-1zM314 411h1v1h-1zM352 411h1v1h-1zM386 411h1v1h-1zM401 411h1v1h-1zM479 411h1v1h-1zM346 412h1v1h-1zM382 412h1v1h-1zM425 412h1v1h-1zM471 412h1v1h-1zM280 413h1v1h-1zM345 413h1v1h-1zM368 413h1v1h-1zM383 413h1v1h-1zM424 413h1v1h-1zM471 413h1v1h-1zM12 414h1v1h-1zM279 414h1v1h-1zM315 414h1v1h-1zM348 414h2v1h-2zM368 414h1v1h-1zM402 414h1v1h-1zM427 414h1v1h-1zM13 415h1v1h-1zM315 415h1v1h-1zM379 415h1v1h-1zM402 415h1v1h-1zM423 415h1v1h-1zM428 415h1v1h-1zM482 415h1v1h-1zM229 416h2v1h-2zM261 416h2v1h-2zM278 416h1v1h-1zM343 416h1v1h-1zM378 416h1v1h-1zM422 416h1v1h-1zM469 416h1v1h-1zM16 417h1v1h-1zM265 417h1v1h-1zM269 417h1v1h-1zM277 417h1v1h-1zM343 417h1v1h-1zM369 417h1v1h-1zM469 417h1v1h-1zM483 417h1v1h-1zM17 418h1v1h-1zM233 418h2v1h-2zM241 418h2v1h-2zM258 418h1v1h-1zM266 418h1v1h-1zM270 418h1v1h-1zM273 418h2v1h-2zM316 418h1v1h-1zM369 418h1v1h-1zM402 418h1v1h-1zM429 418h1v1h-1zM227 419h1v1h-1zM237 419h2v1h-2zM245 419h1v1h-1zM257 419h1v1h-1zM317 419h1v1h-1zM377 419h1v1h-1zM402 419h1v1h-1zM420 419h1v1h-1zM429 419h1v1h-1zM467 419h1v1h-1zM98 420h1v1h-1zM226 420h1v1h-1zM246 420h1v1h-1zM341 420h1v1h-1zM370 420h1v1h-1zM376 420h1v1h-1zM419 420h1v1h-1zM467 420h1v1h-1zM52 421h1v1h-1zM97 421h1v1h-1zM101 421h2v1h-2zM105 421h2v1h-2zM249 421h1v1h-1zM341 421h1v1h-1zM370 421h1v1h-1zM19 422h1v1h-1zM53 422h1v1h-1zM250 422h1v1h-1zM254 422h1v1h-1zM318 422h1v1h-1zM403 422h1v1h-1zM430 422h1v1h-1zM20 423h1v1h-1zM35 423h1v1h-1zM49 423h1v1h-1zM56 423h2v1h-2zM89 423h2v1h-2zM93 423h2v1h-2zM109 423h1v1h-1zM225 423h1v1h-1zM253 423h1v1h-1zM319 423h1v1h-1zM375 423h1v1h-1zM403 423h1v1h-1zM417 423h1v1h-1zM431 423h1v1h-1zM35 424h1v1h-1zM48 424h1v1h-1zM60 424h1v1h-1zM85 424h2v1h-2zM224 424h1v1h-1zM339 424h1v1h-1zM371 424h1v1h-1zM375 424h1v1h-1zM464 424h1v1h-1zM32 425h1v1h-1zM61 425h1v1h-1zM110 425h1v1h-1zM339 425h1v1h-1zM371 425h1v1h-1zM463 425h1v1h-1zM21 426h1v1h-1zM25 426h1v1h-1zM28 426h1v1h-1zM31 426h1v1h-1zM81 426h2v1h-2zM127 426h2v1h-2zM156 426h1v1h-1zM159 426h2v1h-2zM163 426h2v1h-2zM167 426h2v1h-2zM171 426h2v1h-2zM223 426h1v1h-1zM320 426h1v1h-1zM403 426h1v1h-1zM22 427h1v1h-1zM24 427h1v1h-1zM29 427h1v1h-1zM38 427h1v1h-1zM46 427h1v1h-1zM124 427h1v1h-1zM131 427h2v1h-2zM155 427h1v1h-1zM176 427h1v1h-1zM222 427h1v1h-1zM320 427h1v1h-1zM374 427h1v1h-1zM403 427h1v1h-1zM415 427h1v1h-1zM432 427h1v1h-1zM460 427h1v1h-1zM39 428h1v1h-1zM45 428h1v1h-1zM112 428h1v1h-1zM120 428h1v1h-1zM123 428h1v1h-1zM175 428h1v1h-1zM179 428h2v1h-2zM330 428h1v1h-1zM337 428h1v1h-1zM373 428h1v1h-1zM415 428h1v1h-1zM432 428h1v1h-1zM459 428h1v1h-1zM64 429h1v1h-1zM77 429h2v1h-2zM112 429h1v1h-1zM119 429h1v1h-1zM183 429h1v1h-1zM331 429h1v1h-1zM337 429h1v1h-1zM64 430h1v1h-1zM151 430h2v1h-2zM184 430h1v1h-1zM187 430h2v1h-2zM219 430h2v1h-2zM321 430h1v1h-1zM456 430h1v1h-1zM42 431h2v1h-2zM135 431h1v1h-1zM191 431h2v1h-2zM195 431h1v1h-1zM321 431h1v1h-1zM334 431h1v1h-1zM405 431h1v1h-1zM414 431h1v1h-1zM434 431h1v1h-1zM455 431h1v1h-1zM66 432h1v1h-1zM76 432h1v1h-1zM115 432h2v1h-2zM136 432h1v1h-1zM196 432h1v1h-1zM199 432h2v1h-2zM215 432h2v1h-2zM327 432h1v1h-1zM335 432h1v1h-1zM405 432h1v1h-1zM414 432h1v1h-1zM434 432h1v1h-1zM66 433h1v1h-1zM75 433h1v1h-1zM139 433h2v1h-2zM148 433h1v1h-1zM203 433h2v1h-2zM207 433h2v1h-2zM211 433h2v1h-2zM327 433h1v1h-1zM322 434h1v1h-1zM143 435h2v1h-2zM147 435h1v1h-1zM323 435h1v1h-1zM406 435h1v1h-1zM413 435h1v1h-1zM436 435h1v1h-1zM452 435h1v1h-1zM68 436h1v1h-1zM74 436h1v1h-1zM325 436h1v1h-1zM407 436h1v1h-1zM413 436h1v1h-1zM451 436h1v1h-1zM68 437h1v1h-1zM73 437h1v1h-1zM325 438h1v1h-1zM70 439h2v1h-2zM408 439h1v1h-1zM412 439h1v1h-1zM438 439h1v1h-1zM448 439h1v1h-1zM408 440h1v1h-1zM412 440h1v1h-1zM438 440h1v1h-1zM447 440h1v1h-1zM411 443h1v1h-1zM439 443h1v1h-1zM444 443h1v1h-1zM410 444h1v1h-1zM440 444h1v1h-1zM443 444h1v1h-1z" fill="#ff0000" shape-rendering="crispEdges"/>
<path d="M3 399.4 L5 401 L7 405 L9 408.75 L11 412 L13 413 L15 410.6 L17 414.4 L19 417.5 L21 421 L22.5 417 L24 413 L26 416 L28 418.75 L30 418 L32.5 411 L34.5 416 L37 420.6 L39 422.5 L41 423.75 L42.5 417.5 L44 413.75 L46 412.5 L48.5 410 L50.5 412.5 L52 415.6 L54 413 L56 414.4 L58 413.75 L60 419.4 L62 423 L64 427.5 L66 428 L68 428.75 L70 426 L72 421 L74 417 L76 415 L77 412.5 L79 415 L81 413.75 L83 413 L85 408.75 L87 412.5 L89 413 L91 413.75 L93 412.5 L95 408.75 L97 404.4 L98.5 407 L100 412.5 L102 408.75 L104 410 L106 411 L108 415 L109.5 421 L110.5 426 L112 424.4 L114 423 L116 418.75 L118 414.4 L120 415.6 L122 417 L124 413.75 L125.5 413 L127 416 L129 421 L131 426 L133 427.5 L134.5 425 L136 426 L138 422.5 L140 427 L142 428.75 L144 425 L146 418 L148 420 L150 417 L152 415.6 L154 413 L156 414.4 L158 413.75 L160 412.5 L162 412 L163 417.5 L165 412 L167 417 L169 408 L170.5 412.5 L171.5 425.6 L172.5 415 L174 413 L176 417 L178 418.75 L180 420 L182 419.4 L184 413 L186 418 L188 419.4 L190 420.6 L192 422 L194 421 L196 423 L198 420.6 L199.5 425 L201 422.5 L203 423 L205 424.4 L207 427 L209 423.75 L211 425.6 L213 424.4 L215 423 L216 422 L218 416 L220 415 L222 412 L223.5 405 L225 400.6 L227 398 L228.5 402.5 L230 409.4 L232 410 L234 408.75 L236 408.75 L238 407 L240 405 L242 408 L244 410.6 L246 412 L248 412.5 L250 412.5 L252 411 L253.5 405.6 L255 400 L256 397.5 L257.5 400.6 L259 403.75 L261 405.6 L263 408.75 L264.5 404.4 L266 401 L267.5 405 L269 409.4 L271 407.5 L273 405.6 L275 408 L276 405 L277.5 397 L279 393.75 L281 390 L283 387 L284.5 385.6 L285.5 392.5 L287 398.75 L288.5 393.75 L290 392.5 L292 391 L294 390 L295.5 395 L297 403.75 L298.5 406 L300 402.5 L302 397.5 L304 395.6 L306 394.4 L308 393 L309.5 396 L310.5 401 L311.5 413.75 L313 415.6 L314.5 420 L316 421 L317.5 424.4 L319 425.6 L320.5 427.5 L322 425 L324 421 L325.5 416 L327 415 L329 418.75 L330.5 422 L332 420 L334 416 L335.5 414.4 L337 415 L339 410 L341 408 L343 405.6 L344.5 403 L346 409.4 L347.5 413.75 L349 411 L351 407.5 L353 405 L355 403 L357 402.5 L358 401.25 L360 400.6 L362 400 L364 400.6 L365.5 407.5 L367 412.5 L368.5 420 L370 425 L371 425.6 L372 418.75 L373.5 412 L375 410.6 L377 408.75 L379 407.5 L380.5 411 L382 413 L383.5 408.75 L385 405 L386.5 402 L387.5 398.75 L389 403.75 L390.5 407 L392 406 L394 405 L396 402.5 L397.5 401.25 L399 405.6 L400.5 411 L401.5 418.75 L402.5 425 L404 427 L406 428 L407.5 429.4 L409 426 L410.5 418.75 L412 416 L414 413 L416 412 L417.5 410.6 L419 416 L420.5 412.5 L422 408.75 L424 408 L426 410.6 L428 415 L430 419.4 L432 422 L434 421 L435.5 422 L437 426 L438.5 429.4 L440 425 L442 423 L443.5 426 L445 422.5 L447 420 L449 421 L450.5 415 L452 414.4 L454 416 L456 416 L458 415.6 L460 415 L461.5 411 L463 415 L464.5 409.4 L466 406 L468 404.4 L470 402 L472 403.75 L474 404.4 L476 403 L477.5 403.75 L479 408.75 L480.5 411 L482 417.5 L483.5 412.5 L485 408" fill="none" stroke="#1e90ff" stroke-width="2.5" stroke-linejoin="miter" stroke-miterlimit="1.6"/>
<g shape-rendering="crispEdges">
<rect x="48" y="356" width="1" height="19" fill="#000"/>
<rect x="49" y="356" width="3" height="15" fill="#b0f0f0"/>
<rect x="50" y="361" width="1" height="2" fill="#000"/><rect x="50" y="366" width="1" height="2" fill="#000"/>
<rect x="53" y="356" width="1" height="19" fill="#000"/>
<rect x="92" y="356" width="1" height="19" fill="#000"/>
<rect x="93" y="357" width="9" height="14" fill="#ffc0cb"/>
<rect x="92" y="356" width="10" height="1" fill="#000"/>
<rect x="92" y="371" width="10" height="1" fill="#000"/>
<rect x="104" y="356" width="1" height="19" fill="#000"/>
</g>
<path d="M53.5 356.5 H86.5 L90.5 364 L86.5 371.5 H53.5" fill="none" stroke="#000" stroke-width="1"/>
<path d="M104.5 356.5 H138 L142 364 L138 371.5 H104.5" fill="none" stroke="#000" stroke-width="1"/>
<g shape-rendering="crispEdges">
</g>
<rect x="573" y="73" width="54" height="14" fill="#ff0000"/>
<text class="w" x="576.3" y="85">157.170</text>
<rect x="573" y="83" width="54" height="14" fill="#0000ff"/>
<text class="w" x="576.3" y="95">154.000</text>
<rect x="573" y="62" width="54" height="14" fill="#0000ff"/>
<text class="w" x="576.3" y="74">161.000</text>
<rect x="573" y="78" width="54" height="14" fill="#0000ff"/>
<text class="w" x="576.3" y="90">155.500</text>
<rect x="573" y="56" width="54" height="14" fill="#0000ff"/>
<text class="w" x="576.3" y="68">163.000</text>
<text class="g" x="173.5" y="206.5" text-anchor="middle">(1)</text>
<text class="g" x="215.3" y="263" text-anchor="middle">(2)</text>
<text class="g" x="307.5" y="87" text-anchor="middle">(3)</text>
<text class="g" x="319.4" y="190" text-anchor="middle">(4)</text>
<text class="g" x="397.5" y="52" text-anchor="middle">(5)</text>
<text class="g" x="423.7" y="59.5" text-anchor="middle">(B)</text>
<text class="g" x="407.2" y="154.5" text-anchor="middle">(A)</text>
<text class="g" x="439" y="152" text-anchor="middle">(C)</text>
<text class="g" x="489" y="45.5" text-anchor="middle">(1)</text>
<text class="g" x="502.5" y="118.8" text-anchor="middle">(2)</text>
<text class="g" x="530.3" y="17.5" text-anchor="middle">(3)</text>
<text class="g" x="552" y="76.3" text-anchor="middle">(4)</text>
<circle cx="172.8" cy="265.6" r="9.7" fill="none" stroke="#4b0082" stroke-width="1"/>
<text class="p" x="172.8" y="271.6" text-anchor="middle">2</text>
<circle cx="397.8" cy="29.8" r="9.7" fill="none" stroke="#4b0082" stroke-width="1"/>
<text class="p" x="397.8" y="35.8" text-anchor="middle">3</text>
<circle cx="440" cy="162.3" r="9.7" fill="none" stroke="#4b0082" stroke-width="1"/>
<text class="p" x="440" y="168.3" text-anchor="middle">4</text>
</svg>
<svg width="640" height="480" viewBox="0 0 640 480" style="will-change:transform">
<text class="t" x="55.5" y="369">19:00</text>
<text class="t" x="93.5" y="369">0:</text>
<text class="t" x="105.8" y="369">21:30</text>
<text class="t" x="576.3" y="27.5">176.190</text>
<text class="t" x="576.3" y="59.5">165.510</text>
<text class="t" x="576.3" y="123.5">144.150</text>
<text class="t" x="576.3" y="155.5">133.470</text>
<text class="t" x="576.3" y="187.5">122.790</text>
<text class="t" x="576.3" y="219.5">112.110</text>
<text class="t" x="576.3" y="251.5">101.430</text>
<text class="t" x="576.3" y="283.5">90.750</text>
<text class="t" x="576.3" y="315.5">80.070</text>
<text class="t" x="576.3" y="347.5">69.390</text>
<text class="t" x="576.3" y="389">13.5933</text>
<text class="t" x="576.3" y="405.5">70.00</text>
<text class="t" x="576.3" y="436.5">30.00</text>
<text class="t" x="576.3" y="454">-8.0988</text>
<text class="f" x="568.5" y="63" text-anchor="end">0.0</text>
<text class="f" x="568.5" y="106" text-anchor="end">23.6</text>
<text class="f" x="568.5" y="133" text-anchor="end">38.2</text>
<text class="f" x="568.5" y="155" text-anchor="end">50.0</text>
<text class="f" x="568.5" y="176" text-anchor="end">61.8</text>
<text class="f" x="568.5" y="202" text-anchor="end">76.0</text>
<text class="f" x="568.5" y="246" text-anchor="end">100.0</text>
<text class="f" x="568.5" y="359" text-anchor="end">161.8</text>
<text class="t" x="7.2" y="15.5" textLength="47.6" lengthAdjust="spacingAndGlyphs">USDJPY,</text>
<text class="t" x="59" y="15.5" textLength="43" lengthAdjust="spacingAndGlyphs">Weekly:</text>
<text class="t" x="110.5" y="15.5" textLength="15.3" lengthAdjust="spacingAndGlyphs">US</text>
<text class="t" x="129.3" y="15.5" textLength="29" lengthAdjust="spacingAndGlyphs">Dollar</text>
<text class="t" x="163" y="15.5" textLength="11" lengthAdjust="spacingAndGlyphs">vs</text>
<text class="t" x="177.5" y="15.5" textLength="49.6" lengthAdjust="spacingAndGlyphs">Japanese</text>
<text class="t" x="231.3" y="15.5" textLength="22.5" lengthAdjust="spacingAndGlyphs">Yen</text>
<text class="t" x="5.5" y="392.7">MACD(5,34,5)</text>
<text class="t" x="87.5" y="392.7">3.4721</text>
<text class="t" x="130.8" y="392.7">2.5717</text>
<text class="t" x="173.5" y="392.7">RSI(14)</text>
<text class="t" x="219.3" y="392.7">62.50</text>
<text class="t" x="2.3" y="472">4 Dec 2016</text>
<text class="t" x="130.3" y="472">19 May 2019</text>
<text class="t" x="258.3" y="472">31 Oct 2021</text>
<text class="t" x="386.3" y="472">14 Apr 2024</text>
</svg></body></html>
